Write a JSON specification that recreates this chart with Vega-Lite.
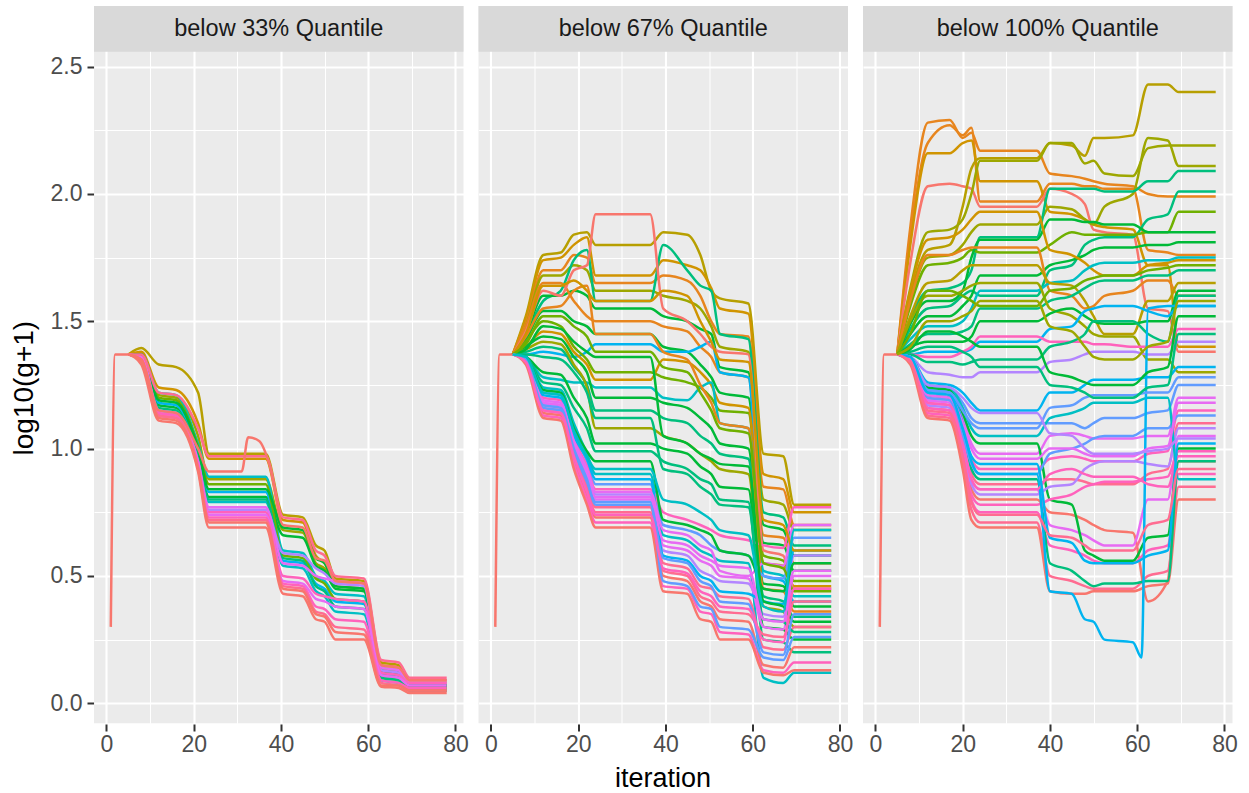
{
"$schema":"https://vega.github.io/schema/vega-lite/v6.json",
"padding":{"left":10,"top":6,"right":17,"bottom":0},
"background":"white",
"datasets":{
"lines":[
{"g":1,"p":"below 33% Quantile","c":3},{"g":2,"p":"below 33% Quantile","c":2},{"g":3,"p":"below 33% Quantile","c":4},{"g":4,"p":"below 33% Quantile","c":8},{"g":5,"p":"below 33% Quantile","c":6},{"g":6,"p":"below 33% Quantile","c":9},{"g":7,"p":"below 33% Quantile","c":5},{"g":8,"p":"below 33% Quantile","c":8},{"g":9,"p":"below 33% Quantile","c":7},{"g":10,"p":"below 33% Quantile","c":6},{"g":11,"p":"below 33% Quantile","c":11},{"g":12,"p":"below 33% Quantile","c":12},{"g":13,"p":"below 33% Quantile","c":13},{"g":14,"p":"below 33% Quantile","c":12},{"g":15,"p":"below 33% Quantile","c":14},{"g":16,"p":"below 33% Quantile","c":13},{"g":17,"p":"below 33% Quantile","c":14},{"g":18,"p":"below 33% Quantile","c":0},{"g":19,"p":"below 33% Quantile","c":0},{"g":20,"p":"below 33% Quantile","c":0},{"g":21,"p":"below 33% Quantile","c":0},
{"g":22,"p":"below 67% Quantile","c":3},{"g":23,"p":"below 67% Quantile","c":2},{"g":24,"p":"below 67% Quantile","c":1},{"g":25,"p":"below 67% Quantile","c":4},{"g":26,"p":"below 67% Quantile","c":7},{"g":27,"p":"below 67% Quantile","c":6},{"g":28,"p":"below 67% Quantile","c":1},{"g":29,"p":"below 67% Quantile","c":6},{"g":30,"p":"below 67% Quantile","c":9},{"g":31,"p":"below 67% Quantile","c":5},{"g":32,"p":"below 67% Quantile","c":2},{"g":33,"p":"below 67% Quantile","c":8},{"g":34,"p":"below 67% Quantile","c":6},{"g":35,"p":"below 67% Quantile","c":7},{"g":36,"p":"below 67% Quantile","c":4},{"g":37,"p":"below 67% Quantile","c":6},{"g":38,"p":"below 67% Quantile","c":7},{"g":39,"p":"below 67% Quantile","c":1},{"g":40,"p":"below 67% Quantile","c":0},{"g":41,"p":"below 67% Quantile","c":8},{"g":42,"p":"below 67% Quantile","c":10},{"g":43,"p":"below 67% Quantile","c":13},{"g":44,"p":"below 67% Quantile","c":11},{"g":45,"p":"below 67% Quantile","c":12},{"g":46,"p":"below 67% Quantile","c":14},{"g":47,"p":"below 67% Quantile","c":0},{"g":48,"p":"below 67% Quantile","c":13},{"g":49,"p":"below 67% Quantile","c":0},{"g":50,"p":"below 67% Quantile","c":9},{"g":51,"p":"below 67% Quantile","c":12},{"g":52,"p":"below 67% Quantile","c":14},{"g":53,"p":"below 67% Quantile","c":10},{"g":54,"p":"below 67% Quantile","c":6},{"g":55,"p":"below 67% Quantile","c":0},
{"g":56,"p":"below 100% Quantile","c":1},{"g":57,"p":"below 100% Quantile","c":1},{"g":58,"p":"below 100% Quantile","c":2},{"g":59,"p":"below 100% Quantile","c":0},{"g":60,"p":"below 100% Quantile","c":3},{"g":61,"p":"below 100% Quantile","c":4},{"g":62,"p":"below 100% Quantile","c":4},{"g":63,"p":"below 100% Quantile","c":7},{"g":64,"p":"below 100% Quantile","c":7},{"g":65,"p":"below 100% Quantile","c":5},{"g":66,"p":"below 100% Quantile","c":6},{"g":67,"p":"below 100% Quantile","c":6},{"g":68,"p":"below 100% Quantile","c":2},{"g":69,"p":"below 100% Quantile","c":1},{"g":70,"p":"below 100% Quantile","c":8},{"g":71,"p":"below 100% Quantile","c":3},{"g":72,"p":"below 100% Quantile","c":7},{"g":73,"p":"below 100% Quantile","c":4},{"g":74,"p":"below 100% Quantile","c":6},{"g":75,"p":"below 100% Quantile","c":9},{"g":76,"p":"below 100% Quantile","c":13},{"g":77,"p":"below 100% Quantile","c":7},{"g":78,"p":"below 100% Quantile","c":11},{"g":79,"p":"below 100% Quantile","c":9},{"g":80,"p":"below 100% Quantile","c":10},{"g":81,"p":"below 100% Quantile","c":12},{"g":82,"p":"below 100% Quantile","c":13},{"g":83,"p":"below 100% Quantile","c":14},{"g":84,"p":"below 100% Quantile","c":0},{"g":85,"p":"below 100% Quantile","c":13},{"g":86,"p":"below 100% Quantile","c":14},{"g":87,"p":"below 100% Quantile","c":0},{"g":88,"p":"below 100% Quantile","c":7},{"g":89,"p":"below 100% Quantile","c":12},{"g":90,"p":"below 100% Quantile","c":6},{"g":91,"p":"below 100% Quantile","c":11},{"g":92,"p":"below 100% Quantile","c":10},{"g":93,"p":"below 100% Quantile","c":13},{"g":94,"p":"below 100% Quantile","c":8},{"g":95,"p":"below 100% Quantile","c":9},{"g":96,"p":"below 100% Quantile","c":0},
{"g":97,"p":"below 100% Quantile","c":12},{"g":98,"p":"below 100% Quantile","c":10},{"g":99,"p":"below 100% Quantile","c":11},{"g":100,"p":"below 100% Quantile","c":7},{"g":101,"p":"below 100% Quantile","c":6},{"g":102,"p":"below 100% Quantile","c":13},{"g":103,"p":"below 100% Quantile","c":9},{"g":104,"p":"below 100% Quantile","c":14},{"g":105,"p":"below 100% Quantile","c":5},{"g":106,"p":"below 100% Quantile","c":4},
{"g":107,"p":"below 67% Quantile","c":6},{"g":108,"p":"below 67% Quantile","c":7},{"g":109,"p":"below 67% Quantile","c":2},{"g":110,"p":"below 67% Quantile","c":5},{"g":111,"p":"below 67% Quantile","c":12},{"g":112,"p":"below 67% Quantile","c":10},{"g":113,"p":"below 67% Quantile","c":13},{"g":114,"p":"below 67% Quantile","c":8}
],
"pts":[
{"g":1,"x":5,"y":1.37},{"g":1,"x":8,"y":1.395},{"g":1,"x":12,"y":1.33},{"g":1,"x":16,"y":1.32},{"g":1,"x":21,"y":1.22},{"g":1,"x":23.5,"y":0.98},{"g":1,"x":36.5,"y":0.98},{"g":1,"x":40.5,"y":0.74},{"g":1,"x":45,"y":0.73},{"g":1,"x":48,"y":0.62},{"g":1,"x":50,"y":0.6},{"g":1,"x":52.5,"y":0.49},{"g":1,"x":59,"y":0.48},{"g":1,"x":63,"y":0.16},{"g":1,"x":67,"y":0.15},{"g":1,"x":69.5,"y":0.09},{"g":1,"x":78,"y":0.09},
{"g":2,"x":5,"y":1.37},{"g":2,"x":8,"y":1.38},{"g":2,"x":12,"y":1.24},{"g":2,"x":16,"y":1.23},{"g":2,"x":21,"y":1.1},{"g":2,"x":23.5,"y":0.96},{"g":2,"x":36.5,"y":0.96},{"g":2,"x":40.5,"y":0.72},{"g":2,"x":45,"y":0.71},{"g":2,"x":48,"y":0.58},{"g":2,"x":50,"y":0.55},{"g":2,"x":52.5,"y":0.48},{"g":2,"x":59,"y":0.47},{"g":2,"x":63,"y":0.15},{"g":2,"x":67,"y":0.14},{"g":2,"x":69.5,"y":0.08},{"g":2,"x":78,"y":0.08},
{"g":3,"x":5,"y":1.37},{"g":3,"x":8,"y":1.37},{"g":3,"x":12,"y":1.21},{"g":3,"x":16,"y":1.2},{"g":3,"x":21,"y":1.05},{"g":3,"x":23.5,"y":0.88},{"g":3,"x":36.5,"y":0.88},{"g":3,"x":40.5,"y":0.68},{"g":3,"x":45,"y":0.67},{"g":3,"x":48,"y":0.55},{"g":3,"x":50,"y":0.53},{"g":3,"x":52.5,"y":0.46},{"g":3,"x":59,"y":0.45},{"g":3,"x":63,"y":0.14},{"g":3,"x":67,"y":0.13},{"g":3,"x":69.5,"y":0.07},{"g":3,"x":78,"y":0.07},
{"g":4,"x":5,"y":1.37},{"g":4,"x":8,"y":1.37},{"g":4,"x":12,"y":1.22},{"g":4,"x":16,"y":1.21},{"g":4,"x":21,"y":1.02},{"g":4,"x":23.5,"y":0.89},{"g":4,"x":36.5,"y":0.89},{"g":4,"x":40.5,"y":0.6},{"g":4,"x":45,"y":0.59},{"g":4,"x":48,"y":0.5},{"g":4,"x":50,"y":0.48},{"g":4,"x":52.5,"y":0.43},{"g":4,"x":59,"y":0.42},{"g":4,"x":63,"y":0.12},{"g":4,"x":67,"y":0.11},{"g":4,"x":69.5,"y":0.07},{"g":4,"x":78,"y":0.07},
{"g":5,"x":5,"y":1.37},{"g":5,"x":8,"y":1.36},{"g":5,"x":12,"y":1.17},{"g":5,"x":16,"y":1.16},{"g":5,"x":21,"y":0.98},{"g":5,"x":23.5,"y":0.81},{"g":5,"x":36.5,"y":0.81},{"g":5,"x":40.5,"y":0.66},{"g":5,"x":45,"y":0.65},{"g":5,"x":48,"y":0.54},{"g":5,"x":50,"y":0.52},{"g":5,"x":52.5,"y":0.45},{"g":5,"x":59,"y":0.44},{"g":5,"x":63,"y":0.13},{"g":5,"x":67,"y":0.12},{"g":5,"x":69.5,"y":0.07},{"g":5,"x":78,"y":0.07},
{"g":6,"x":5,"y":1.37},{"g":6,"x":8,"y":1.36},{"g":6,"x":12,"y":1.18},{"g":6,"x":16,"y":1.17},{"g":6,"x":21,"y":0.99},{"g":6,"x":23.5,"y":0.83},{"g":6,"x":36.5,"y":0.83},{"g":6,"x":40.5,"y":0.56},{"g":6,"x":45,"y":0.55},{"g":6,"x":48,"y":0.47},{"g":6,"x":50,"y":0.45},{"g":6,"x":52.5,"y":0.4},{"g":6,"x":59,"y":0.39},{"g":6,"x":63,"y":0.11},{"g":6,"x":67,"y":0.1},{"g":6,"x":69.5,"y":0.06},{"g":6,"x":78,"y":0.06},
{"g":7,"x":5,"y":1.37},{"g":7,"x":8,"y":1.37},{"g":7,"x":12,"y":1.2},{"g":7,"x":16,"y":1.19},{"g":7,"x":21,"y":1.01},{"g":7,"x":23.5,"y":0.86},{"g":7,"x":36.5,"y":0.86},{"g":7,"x":40.5,"y":0.58},{"g":7,"x":45,"y":0.57},{"g":7,"x":48,"y":0.49},{"g":7,"x":50,"y":0.47},{"g":7,"x":52.5,"y":0.41},{"g":7,"x":59,"y":0.4},{"g":7,"x":63,"y":0.1},{"g":7,"x":67,"y":0.09},{"g":7,"x":69.5,"y":0.06},{"g":7,"x":78,"y":0.06},
{"g":8,"x":5,"y":1.37},{"g":8,"x":8,"y":1.36},{"g":8,"x":12,"y":1.15},{"g":8,"x":16,"y":1.14},{"g":8,"x":21,"y":0.96},{"g":8,"x":23.5,"y":0.79},{"g":8,"x":36.5,"y":0.79},{"g":8,"x":40.5,"y":0.54},{"g":8,"x":45,"y":0.53},{"g":8,"x":48,"y":0.44},{"g":8,"x":50,"y":0.42},{"g":8,"x":52.5,"y":0.36},{"g":8,"x":59,"y":0.35},{"g":8,"x":63,"y":0.09},{"g":8,"x":67,"y":0.08},{"g":8,"x":69.5,"y":0.05},{"g":8,"x":78,"y":0.05},
{"g":9,"x":5,"y":1.37},{"g":9,"x":8,"y":1.36},{"g":9,"x":12,"y":1.16},{"g":9,"x":16,"y":1.15},{"g":9,"x":21,"y":0.97},{"g":9,"x":23.5,"y":0.8},{"g":9,"x":36.5,"y":0.8},{"g":9,"x":40.5,"y":0.57},{"g":9,"x":45,"y":0.56},{"g":9,"x":48,"y":0.46},{"g":9,"x":50,"y":0.44},{"g":9,"x":52.5,"y":0.38},{"g":9,"x":59,"y":0.37},{"g":9,"x":63,"y":0.1},{"g":9,"x":67,"y":0.09},{"g":9,"x":69.5,"y":0.05},{"g":9,"x":78,"y":0.05},
{"g":10,"x":5,"y":1.37},{"g":10,"x":8,"y":1.37},{"g":10,"x":12,"y":1.19},{"g":10,"x":16,"y":1.18},{"g":10,"x":21,"y":1.0},{"g":10,"x":23.5,"y":0.84},{"g":10,"x":36.5,"y":0.84},{"g":10,"x":40.5,"y":0.69},{"g":10,"x":45,"y":0.68},{"g":10,"x":48,"y":0.57},{"g":10,"x":50,"y":0.55},{"g":10,"x":52.5,"y":0.46},{"g":10,"x":59,"y":0.45},{"g":10,"x":63,"y":0.12},{"g":10,"x":67,"y":0.11},{"g":10,"x":69.5,"y":0.07},{"g":10,"x":78,"y":0.07},
{"g":11,"x":5,"y":1.37},{"g":11,"x":8,"y":1.36},{"g":11,"x":12,"y":1.15},{"g":11,"x":16,"y":1.14},{"g":11,"x":21,"y":0.95},{"g":11,"x":23.5,"y":0.76},{"g":11,"x":36.5,"y":0.76},{"g":11,"x":40.5,"y":0.59},{"g":11,"x":45,"y":0.58},{"g":11,"x":48,"y":0.53},{"g":11,"x":50,"y":0.51},{"g":11,"x":52.5,"y":0.47},{"g":11,"x":59,"y":0.46},{"g":11,"x":63,"y":0.13},{"g":11,"x":67,"y":0.12},{"g":11,"x":69.5,"y":0.08},{"g":11,"x":78,"y":0.08},
{"g":12,"x":5,"y":1.37},{"g":12,"x":8,"y":1.36},{"g":12,"x":12,"y":1.14},{"g":12,"x":16,"y":1.13},{"g":12,"x":21,"y":0.95},{"g":12,"x":23.5,"y":0.77},{"g":12,"x":36.5,"y":0.77},{"g":12,"x":40.5,"y":0.55},{"g":12,"x":45,"y":0.54},{"g":12,"x":48,"y":0.5},{"g":12,"x":50,"y":0.49},{"g":12,"x":52.5,"y":0.48},{"g":12,"x":59,"y":0.47},{"g":12,"x":63,"y":0.14},{"g":12,"x":67,"y":0.13},{"g":12,"x":69.5,"y":0.09},{"g":12,"x":78,"y":0.09},
{"g":13,"x":5,"y":1.37},{"g":13,"x":8,"y":1.35},{"g":13,"x":12,"y":1.14},{"g":13,"x":16,"y":1.13},{"g":13,"x":21,"y":0.94},{"g":13,"x":23.5,"y":0.75},{"g":13,"x":36.5,"y":0.75},{"g":13,"x":40.5,"y":0.5},{"g":13,"x":45,"y":0.49},{"g":13,"x":48,"y":0.43},{"g":13,"x":50,"y":0.42},{"g":13,"x":52.5,"y":0.41},{"g":13,"x":59,"y":0.4},{"g":13,"x":63,"y":0.12},{"g":13,"x":67,"y":0.11},{"g":13,"x":69.5,"y":0.08},{"g":13,"x":78,"y":0.08},
{"g":14,"x":5,"y":1.37},{"g":14,"x":8,"y":1.35},{"g":14,"x":12,"y":1.13},{"g":14,"x":16,"y":1.12},{"g":14,"x":21,"y":0.94},{"g":14,"x":23.5,"y":0.74},{"g":14,"x":36.5,"y":0.74},{"g":14,"x":40.5,"y":0.48},{"g":14,"x":45,"y":0.47},{"g":14,"x":48,"y":0.41},{"g":14,"x":50,"y":0.4},{"g":14,"x":52.5,"y":0.38},{"g":14,"x":59,"y":0.37},{"g":14,"x":63,"y":0.11},{"g":14,"x":67,"y":0.1},{"g":14,"x":69.5,"y":0.07},{"g":14,"x":78,"y":0.07},
{"g":15,"x":5,"y":1.37},{"g":15,"x":8,"y":1.37},{"g":15,"x":12,"y":1.22},{"g":15,"x":16,"y":1.21},{"g":15,"x":21,"y":1.08},{"g":15,"x":23.5,"y":0.97},{"g":15,"x":36.5,"y":0.97},{"g":15,"x":40.5,"y":0.73},{"g":15,"x":45,"y":0.72},{"g":15,"x":48,"y":0.6},{"g":15,"x":50,"y":0.58},{"g":15,"x":52.5,"y":0.5},{"g":15,"x":59,"y":0.49},{"g":15,"x":63,"y":0.17},{"g":15,"x":67,"y":0.16},{"g":15,"x":69.5,"y":0.1},{"g":15,"x":78,"y":0.1},
{"g":16,"x":5,"y":1.37},{"g":16,"x":8,"y":1.35},{"g":16,"x":12,"y":1.13},{"g":16,"x":16,"y":1.12},{"g":16,"x":21,"y":0.93},{"g":16,"x":23.5,"y":0.73},{"g":16,"x":36.5,"y":0.73},{"g":16,"x":40.5,"y":0.47},{"g":16,"x":45,"y":0.46},{"g":16,"x":48,"y":0.38},{"g":16,"x":50,"y":0.37},{"g":16,"x":52.5,"y":0.33},{"g":16,"x":59,"y":0.32},{"g":16,"x":63,"y":0.09},{"g":16,"x":67,"y":0.08},{"g":16,"x":69.5,"y":0.06},{"g":16,"x":78,"y":0.06},
{"g":17,"x":5,"y":1.37},{"g":17,"x":8,"y":1.35},{"g":17,"x":12,"y":1.13},{"g":17,"x":16,"y":1.12},{"g":17,"x":21,"y":0.93},{"g":17,"x":23.5,"y":0.72},{"g":17,"x":36.5,"y":0.72},{"g":17,"x":40.5,"y":0.46},{"g":17,"x":45,"y":0.45},{"g":17,"x":48,"y":0.36},{"g":17,"x":50,"y":0.35},{"g":17,"x":52.5,"y":0.3},{"g":17,"x":59,"y":0.29},{"g":17,"x":63,"y":0.08},{"g":17,"x":67,"y":0.07},{"g":17,"x":69.5,"y":0.05},{"g":17,"x":78,"y":0.05},
{"g":18,"x":5,"y":1.37},{"g":18,"x":8,"y":1.34},{"g":18,"x":12,"y":1.12},{"g":18,"x":16,"y":1.11},{"g":18,"x":21,"y":0.92},{"g":18,"x":23.5,"y":0.71},{"g":18,"x":36.5,"y":0.71},{"g":18,"x":40.5,"y":0.45},{"g":18,"x":45,"y":0.44},{"g":18,"x":48,"y":0.35},{"g":18,"x":50,"y":0.34},{"g":18,"x":52.5,"y":0.28},{"g":18,"x":59,"y":0.27},{"g":18,"x":63,"y":0.07},{"g":18,"x":67,"y":0.07},{"g":18,"x":69.5,"y":0.05},{"g":18,"x":78,"y":0.05},
{"g":19,"x":5,"y":1.37},{"g":19,"x":8,"y":1.33},{"g":19,"x":12,"y":1.11},{"g":19,"x":16,"y":1.1},{"g":19,"x":21,"y":0.91},{"g":19,"x":23.5,"y":0.69},{"g":19,"x":36.5,"y":0.69},{"g":19,"x":40.5,"y":0.43},{"g":19,"x":45,"y":0.42},{"g":19,"x":48,"y":0.33},{"g":19,"x":50,"y":0.32},{"g":19,"x":52.5,"y":0.25},{"g":19,"x":59,"y":0.25},{"g":19,"x":63,"y":0.065},{"g":19,"x":67,"y":0.06},{"g":19,"x":69.5,"y":0.04},{"g":19,"x":78,"y":0.04},
{"g":20,"x":5,"y":1.37},{"g":20,"x":8,"y":1.35},{"g":20,"x":12,"y":1.15},{"g":20,"x":16,"y":1.14},{"g":20,"x":21,"y":1.0},{"g":20,"x":23.5,"y":0.91},{"g":20,"x":31,"y":0.91},{"g":20,"x":32.5,"y":1.045},{"g":20,"x":35,"y":1.03},{"g":20,"x":37.5,"y":0.93},{"g":20,"x":40.5,"y":0.7},{"g":20,"x":45,"y":0.69},{"g":20,"x":48,"y":0.57},{"g":20,"x":50,"y":0.56},{"g":20,"x":52.5,"y":0.48},{"g":20,"x":59,"y":0.47},{"g":20,"x":63,"y":0.15},{"g":20,"x":67,"y":0.14},{"g":20,"x":69.5,"y":0.09},{"g":20,"x":78,"y":0.09},
{"g":21,"x":1,"y":0.3},{"g":21,"x":2,"y":1.37},{"g":21,"x":5,"y":1.37},
{"g":22,"x":5,"y":1.37},{"g":22,"x":8,"y":1.52},{"g":22,"x":12,"y":1.76},{"g":22,"x":16,"y":1.77},{"g":22,"x":19,"y":1.84},{"g":22,"x":22,"y":1.85},{"g":22,"x":24,"y":1.8},{"g":22,"x":36.5,"y":1.8},{"g":22,"x":39.5,"y":1.85},{"g":22,"x":45,"y":1.84},{"g":22,"x":48,"y":1.76},{"g":22,"x":50.5,"y":1.62},{"g":22,"x":52.5,"y":1.59},{"g":22,"x":59,"y":1.57},{"g":22,"x":62.5,"y":0.98},{"g":22,"x":67,"y":0.97},{"g":22,"x":69.5,"y":0.78},{"g":22,"x":78,"y":0.78},
{"g":23,"x":5,"y":1.37},{"g":23,"x":8,"y":1.51},{"g":23,"x":12,"y":1.74},{"g":23,"x":16,"y":1.75},{"g":23,"x":19,"y":1.8},{"g":23,"x":22,"y":1.83},{"g":23,"x":24,"y":1.68},{"g":23,"x":36.5,"y":1.68},{"g":23,"x":39.5,"y":1.74},{"g":23,"x":45,"y":1.72},{"g":23,"x":48,"y":1.7},{"g":23,"x":50.5,"y":1.63},{"g":23,"x":52.5,"y":1.55},{"g":23,"x":59,"y":1.53},{"g":23,"x":62.5,"y":0.9},{"g":23,"x":67,"y":0.88},{"g":23,"x":69.5,"y":0.75},{"g":23,"x":78,"y":0.75},
{"g":24,"x":5,"y":1.37},{"g":24,"x":8,"y":1.49},{"g":24,"x":12,"y":1.7},{"g":24,"x":16,"y":1.7},{"g":24,"x":19,"y":1.76},{"g":24,"x":22,"y":1.75},{"g":24,"x":24,"y":1.65},{"g":24,"x":36.5,"y":1.65},{"g":24,"x":39.5,"y":1.68},{"g":24,"x":45,"y":1.66},{"g":24,"x":48,"y":1.6},{"g":24,"x":50.5,"y":1.5},{"g":24,"x":52.5,"y":1.45},{"g":24,"x":59,"y":1.44},{"g":24,"x":62.5,"y":0.85},{"g":24,"x":67,"y":0.84},{"g":24,"x":69.5,"y":0.7},{"g":24,"x":78,"y":0.7},
{"g":25,"x":5,"y":1.37},{"g":25,"x":8,"y":1.48},{"g":25,"x":12,"y":1.68},{"g":25,"x":16,"y":1.68},{"g":25,"x":19,"y":1.72},{"g":25,"x":22,"y":1.7},{"g":25,"x":24,"y":1.62},{"g":25,"x":36.5,"y":1.62},{"g":25,"x":39.5,"y":1.6},{"g":25,"x":45,"y":1.58},{"g":25,"x":48,"y":1.55},{"g":25,"x":50.5,"y":1.48},{"g":25,"x":52.5,"y":1.4},{"g":25,"x":59,"y":1.38},{"g":25,"x":62.5,"y":0.8},{"g":25,"x":67,"y":0.78},{"g":25,"x":69.5,"y":0.68},{"g":25,"x":78,"y":0.68},
{"g":26,"x":5,"y":1.37},{"g":26,"x":8,"y":1.45},{"g":26,"x":12,"y":1.58},{"g":26,"x":16,"y":1.62},{"g":26,"x":19,"y":1.74},{"g":26,"x":22,"y":1.78},{"g":26,"x":24,"y":1.58},{"g":26,"x":36.5,"y":1.58},{"g":26,"x":39.5,"y":1.8},{"g":26,"x":45,"y":1.7},{"g":26,"x":48,"y":1.64},{"g":26,"x":50.5,"y":1.62},{"g":26,"x":52.5,"y":1.45},{"g":26,"x":59,"y":1.43},{"g":26,"x":62.5,"y":0.75},{"g":26,"x":67,"y":0.73},{"g":26,"x":69.5,"y":0.62},{"g":26,"x":78,"y":0.62},
{"g":27,"x":5,"y":1.37},{"g":27,"x":8,"y":1.45},{"g":27,"x":12,"y":1.6},{"g":27,"x":16,"y":1.6},{"g":27,"x":19,"y":1.62},{"g":27,"x":22,"y":1.6},{"g":27,"x":24,"y":1.55},{"g":27,"x":36.5,"y":1.55},{"g":27,"x":39.5,"y":1.52},{"g":27,"x":45,"y":1.5},{"g":27,"x":48,"y":1.47},{"g":27,"x":50.5,"y":1.45},{"g":27,"x":52.5,"y":1.32},{"g":27,"x":59,"y":1.3},{"g":27,"x":62.5,"y":0.7},{"g":27,"x":67,"y":0.68},{"g":27,"x":69.5,"y":0.58},{"g":27,"x":78,"y":0.58},
{"g":28,"x":5,"y":1.37},{"g":28,"x":8,"y":1.48},{"g":28,"x":12,"y":1.65},{"g":28,"x":16,"y":1.65},{"g":28,"x":19,"y":1.58},{"g":28,"x":22,"y":1.52},{"g":28,"x":24,"y":1.5},{"g":28,"x":36.5,"y":1.5},{"g":28,"x":39.5,"y":1.48},{"g":28,"x":45,"y":1.46},{"g":28,"x":48,"y":1.4},{"g":28,"x":50.5,"y":1.36},{"g":28,"x":52.5,"y":1.3},{"g":28,"x":59,"y":1.28},{"g":28,"x":62.5,"y":0.66},{"g":28,"x":67,"y":0.65},{"g":28,"x":69.5,"y":0.55},{"g":28,"x":78,"y":0.55},
{"g":29,"x":5,"y":1.37},{"g":29,"x":8,"y":1.43},{"g":29,"x":12,"y":1.54},{"g":29,"x":16,"y":1.54},{"g":29,"x":19,"y":1.5},{"g":29,"x":22,"y":1.48},{"g":29,"x":24,"y":1.45},{"g":29,"x":36.5,"y":1.45},{"g":29,"x":39.5,"y":1.4},{"g":29,"x":45,"y":1.38},{"g":29,"x":48,"y":1.33},{"g":29,"x":50.5,"y":1.28},{"g":29,"x":52.5,"y":1.22},{"g":29,"x":59,"y":1.2},{"g":29,"x":62.5,"y":0.63},{"g":29,"x":67,"y":0.62},{"g":29,"x":69.5,"y":0.52},{"g":29,"x":78,"y":0.52},
{"g":30,"x":5,"y":1.37},{"g":30,"x":8,"y":1.37},{"g":30,"x":12,"y":1.38},{"g":30,"x":16,"y":1.37},{"g":30,"x":19,"y":1.36},{"g":30,"x":22,"y":1.38},{"g":30,"x":24,"y":1.41},{"g":30,"x":36.5,"y":1.41},{"g":30,"x":39.5,"y":1.38},{"g":30,"x":45,"y":1.38},{"g":30,"x":48,"y":1.4},{"g":30,"x":50.5,"y":1.42},{"g":30,"x":52.5,"y":1.3},{"g":30,"x":59,"y":1.28},{"g":30,"x":62.5,"y":0.5},{"g":30,"x":67,"y":0.48},{"g":30,"x":69.5,"y":0.4},{"g":30,"x":78,"y":0.4},
{"g":31,"x":5,"y":1.37},{"g":31,"x":8,"y":1.42},{"g":31,"x":12,"y":1.5},{"g":31,"x":16,"y":1.48},{"g":31,"x":19,"y":1.4},{"g":31,"x":22,"y":1.35},{"g":31,"x":24,"y":1.3},{"g":31,"x":36.5,"y":1.3},{"g":31,"x":39.5,"y":1.28},{"g":31,"x":45,"y":1.26},{"g":31,"x":48,"y":1.24},{"g":31,"x":50.5,"y":1.2},{"g":31,"x":52.5,"y":1.15},{"g":31,"x":59,"y":1.14},{"g":31,"x":62.5,"y":0.58},{"g":31,"x":67,"y":0.56},{"g":31,"x":69.5,"y":0.48},{"g":31,"x":78,"y":0.48},
{"g":32,"x":5,"y":1.37},{"g":32,"x":8,"y":1.4},{"g":32,"x":12,"y":1.46},{"g":32,"x":16,"y":1.45},{"g":32,"x":19,"y":1.38},{"g":32,"x":22,"y":1.33},{"g":32,"x":24,"y":1.27},{"g":32,"x":36.5,"y":1.27},{"g":32,"x":39.5,"y":1.35},{"g":32,"x":45,"y":1.34},{"g":32,"x":48,"y":1.3},{"g":32,"x":50.5,"y":1.25},{"g":32,"x":52.5,"y":1.18},{"g":32,"x":59,"y":1.16},{"g":32,"x":62.5,"y":0.55},{"g":32,"x":67,"y":0.54},{"g":32,"x":69.5,"y":0.46},{"g":32,"x":78,"y":0.46},
{"g":33,"x":5,"y":1.37},{"g":33,"x":8,"y":1.36},{"g":33,"x":12,"y":1.28},{"g":33,"x":16,"y":1.27},{"g":33,"x":19,"y":1.26},{"g":33,"x":22,"y":1.26},{"g":33,"x":24,"y":1.24},{"g":33,"x":36.5,"y":1.24},{"g":33,"x":39.5,"y":1.2},{"g":33,"x":45,"y":1.19},{"g":33,"x":48,"y":1.24},{"g":33,"x":50.5,"y":1.26},{"g":33,"x":52.5,"y":1.1},{"g":33,"x":59,"y":1.08},{"g":33,"x":62.5,"y":0.52},{"g":33,"x":67,"y":0.5},{"g":33,"x":69.5,"y":0.42},{"g":33,"x":78,"y":0.42},
{"g":34,"x":5,"y":1.37},{"g":34,"x":8,"y":1.4},{"g":34,"x":12,"y":1.44},{"g":34,"x":16,"y":1.43},{"g":34,"x":19,"y":1.36},{"g":34,"x":22,"y":1.3},{"g":34,"x":24,"y":1.2},{"g":34,"x":36.5,"y":1.2},{"g":34,"x":39.5,"y":1.18},{"g":34,"x":45,"y":1.16},{"g":34,"x":48,"y":1.12},{"g":34,"x":50.5,"y":1.08},{"g":34,"x":52.5,"y":1.02},{"g":34,"x":59,"y":1.0},{"g":34,"x":62.5,"y":0.47},{"g":34,"x":67,"y":0.46},{"g":34,"x":69.5,"y":0.38},{"g":34,"x":78,"y":0.38},
{"g":35,"x":5,"y":1.37},{"g":35,"x":8,"y":1.38},{"g":35,"x":12,"y":1.4},{"g":35,"x":16,"y":1.39},{"g":35,"x":19,"y":1.32},{"g":35,"x":22,"y":1.25},{"g":35,"x":24,"y":1.15},{"g":35,"x":36.5,"y":1.15},{"g":35,"x":39.5,"y":1.12},{"g":35,"x":45,"y":1.1},{"g":35,"x":48,"y":1.05},{"g":35,"x":50.5,"y":1.02},{"g":35,"x":52.5,"y":0.98},{"g":35,"x":59,"y":0.96},{"g":35,"x":62.5,"y":0.42},{"g":35,"x":67,"y":0.4},{"g":35,"x":69.5,"y":0.34},{"g":35,"x":78,"y":0.34},
{"g":36,"x":5,"y":1.37},{"g":36,"x":8,"y":1.39},{"g":36,"x":12,"y":1.42},{"g":36,"x":16,"y":1.41},{"g":36,"x":19,"y":1.33},{"g":36,"x":22,"y":1.24},{"g":36,"x":24,"y":1.08},{"g":36,"x":36.5,"y":1.08},{"g":36,"x":39.5,"y":1.05},{"g":36,"x":45,"y":1.02},{"g":36,"x":48,"y":0.98},{"g":36,"x":50.5,"y":0.95},{"g":36,"x":52.5,"y":0.92},{"g":36,"x":59,"y":0.9},{"g":36,"x":62.5,"y":0.38},{"g":36,"x":67,"y":0.36},{"g":36,"x":69.5,"y":0.3},{"g":36,"x":78,"y":0.3},
{"g":37,"x":5,"y":1.37},{"g":37,"x":8,"y":1.36},{"g":37,"x":12,"y":1.3},{"g":37,"x":16,"y":1.29},{"g":37,"x":19,"y":1.2},{"g":37,"x":22,"y":1.12},{"g":37,"x":24,"y":1.02},{"g":37,"x":36.5,"y":1.02},{"g":37,"x":39.5,"y":1.0},{"g":37,"x":45,"y":0.98},{"g":37,"x":48,"y":0.93},{"g":37,"x":50.5,"y":0.9},{"g":37,"x":52.5,"y":0.85},{"g":37,"x":59,"y":0.84},{"g":37,"x":62.5,"y":0.3},{"g":37,"x":67,"y":0.29},{"g":37,"x":69.5,"y":0.25},{"g":37,"x":78,"y":0.25},
{"g":38,"x":5,"y":1.37},{"g":38,"x":8,"y":1.36},{"g":38,"x":12,"y":1.26},{"g":38,"x":16,"y":1.25},{"g":38,"x":19,"y":1.16},{"g":38,"x":22,"y":1.08},{"g":38,"x":24,"y":0.99},{"g":38,"x":36.5,"y":0.99},{"g":38,"x":39.5,"y":0.95},{"g":38,"x":45,"y":0.92},{"g":38,"x":48,"y":0.88},{"g":38,"x":50.5,"y":0.86},{"g":38,"x":52.5,"y":0.8},{"g":38,"x":59,"y":0.79},{"g":38,"x":62.5,"y":0.25},{"g":38,"x":67,"y":0.24},{"g":38,"x":69.5,"y":0.2},{"g":38,"x":78,"y":0.2},
{"g":39,"x":5,"y":1.37},{"g":39,"x":8,"y":1.44},{"g":39,"x":12,"y":1.55},{"g":39,"x":16,"y":1.56},{"g":39,"x":19,"y":1.62},{"g":39,"x":22,"y":1.64},{"g":39,"x":24,"y":1.45},{"g":39,"x":36.5,"y":1.45},{"g":39,"x":39.5,"y":1.38},{"g":39,"x":45,"y":1.35},{"g":39,"x":48,"y":1.25},{"g":39,"x":50.5,"y":1.18},{"g":39,"x":52.5,"y":1.1},{"g":39,"x":59,"y":1.08},{"g":39,"x":62.5,"y":0.45},{"g":39,"x":67,"y":0.44},{"g":39,"x":69.5,"y":0.36},{"g":39,"x":78,"y":0.36},
{"g":40,"x":5,"y":1.37},{"g":40,"x":8,"y":1.46},{"g":40,"x":12,"y":1.62},{"g":40,"x":16,"y":1.6},{"g":40,"x":19,"y":1.7},{"g":40,"x":22,"y":1.72},{"g":40,"x":24,"y":1.92},{"g":40,"x":36.5,"y":1.92},{"g":40,"x":39.5,"y":1.55},{"g":40,"x":45,"y":1.5},{"g":40,"x":48,"y":1.45},{"g":40,"x":50.5,"y":1.4},{"g":40,"x":52.5,"y":1.38},{"g":40,"x":59,"y":1.37},{"g":40,"x":62.5,"y":0.6},{"g":40,"x":67,"y":0.58},{"g":40,"x":69.5,"y":0.45},{"g":40,"x":78,"y":0.45},
{"g":41,"x":5,"y":1.37},{"g":41,"x":8,"y":1.36},{"g":41,"x":12,"y":1.24},{"g":41,"x":16,"y":1.23},{"g":41,"x":19,"y":1.1},{"g":41,"x":22,"y":0.98},{"g":41,"x":24,"y":0.9},{"g":41,"x":36.5,"y":0.9},{"g":41,"x":39.5,"y":0.66},{"g":41,"x":45,"y":0.64},{"g":41,"x":48,"y":0.6},{"g":41,"x":50.5,"y":0.58},{"g":41,"x":52.5,"y":0.56},{"g":41,"x":59,"y":0.55},{"g":41,"x":62.5,"y":0.1},{"g":41,"x":67,"y":0.08},{"g":41,"x":69.5,"y":0.12},{"g":41,"x":78,"y":0.12},
{"g":42,"x":5,"y":1.37},{"g":42,"x":8,"y":1.36},{"g":42,"x":12,"y":1.22},{"g":42,"x":16,"y":1.21},{"g":42,"x":19,"y":1.06},{"g":42,"x":22,"y":0.95},{"g":42,"x":24,"y":0.86},{"g":42,"x":36.5,"y":0.86},{"g":42,"x":39.5,"y":0.7},{"g":42,"x":45,"y":0.68},{"g":42,"x":48,"y":0.66},{"g":42,"x":50.5,"y":0.62},{"g":42,"x":52.5,"y":0.6},{"g":42,"x":59,"y":0.58},{"g":42,"x":62.5,"y":0.5},{"g":42,"x":67,"y":0.49},{"g":42,"x":69.5,"y":0.65},{"g":42,"x":78,"y":0.65},
{"g":43,"x":5,"y":1.37},{"g":43,"x":8,"y":1.35},{"g":43,"x":12,"y":1.2},{"g":43,"x":16,"y":1.19},{"g":43,"x":19,"y":1.04},{"g":43,"x":22,"y":0.93},{"g":43,"x":24,"y":0.84},{"g":43,"x":36.5,"y":0.84},{"g":43,"x":39.5,"y":0.75},{"g":43,"x":45,"y":0.72},{"g":43,"x":48,"y":0.7},{"g":43,"x":50.5,"y":0.68},{"g":43,"x":52.5,"y":0.66},{"g":43,"x":59,"y":0.64},{"g":43,"x":62.5,"y":0.62},{"g":43,"x":67,"y":0.61},{"g":43,"x":69.5,"y":0.77},{"g":43,"x":78,"y":0.77},
{"g":44,"x":5,"y":1.37},{"g":44,"x":8,"y":1.35},{"g":44,"x":12,"y":1.18},{"g":44,"x":16,"y":1.17},{"g":44,"x":19,"y":1.02},{"g":44,"x":22,"y":0.91},{"g":44,"x":24,"y":0.82},{"g":44,"x":36.5,"y":0.82},{"g":44,"x":39.5,"y":0.6},{"g":44,"x":45,"y":0.58},{"g":44,"x":48,"y":0.52},{"g":44,"x":50.5,"y":0.5},{"g":44,"x":52.5,"y":0.48},{"g":44,"x":59,"y":0.47},{"g":44,"x":62.5,"y":0.35},{"g":44,"x":67,"y":0.34},{"g":44,"x":69.5,"y":0.58},{"g":44,"x":78,"y":0.58},
{"g":45,"x":5,"y":1.37},{"g":45,"x":8,"y":1.35},{"g":45,"x":12,"y":1.17},{"g":45,"x":16,"y":1.16},{"g":45,"x":19,"y":1.0},{"g":45,"x":22,"y":0.89},{"g":45,"x":24,"y":0.8},{"g":45,"x":36.5,"y":0.8},{"g":45,"x":39.5,"y":0.62},{"g":45,"x":45,"y":0.6},{"g":45,"x":48,"y":0.56},{"g":45,"x":50.5,"y":0.54},{"g":45,"x":52.5,"y":0.5},{"g":45,"x":59,"y":0.49},{"g":45,"x":62.5,"y":0.3},{"g":45,"x":67,"y":0.29},{"g":45,"x":69.5,"y":0.5},{"g":45,"x":78,"y":0.5},
{"g":46,"x":5,"y":1.37},{"g":46,"x":8,"y":1.35},{"g":46,"x":12,"y":1.16},{"g":46,"x":16,"y":1.15},{"g":46,"x":19,"y":0.98},{"g":46,"x":22,"y":0.86},{"g":46,"x":24,"y":0.77},{"g":46,"x":36.5,"y":0.77},{"g":46,"x":39.5,"y":0.55},{"g":46,"x":45,"y":0.53},{"g":46,"x":48,"y":0.46},{"g":46,"x":50.5,"y":0.45},{"g":46,"x":52.5,"y":0.42},{"g":46,"x":59,"y":0.41},{"g":46,"x":62.5,"y":0.22},{"g":46,"x":67,"y":0.21},{"g":46,"x":69.5,"y":0.3},{"g":46,"x":78,"y":0.3},
{"g":47,"x":5,"y":1.37},{"g":47,"x":8,"y":1.34},{"g":47,"x":12,"y":1.14},{"g":47,"x":16,"y":1.13},{"g":47,"x":19,"y":0.96},{"g":47,"x":22,"y":0.82},{"g":47,"x":24,"y":0.73},{"g":47,"x":36.5,"y":0.73},{"g":47,"x":39.5,"y":0.5},{"g":47,"x":45,"y":0.48},{"g":47,"x":48,"y":0.4},{"g":47,"x":50.5,"y":0.38},{"g":47,"x":52.5,"y":0.33},{"g":47,"x":59,"y":0.32},{"g":47,"x":62.5,"y":0.15},{"g":47,"x":67,"y":0.14},{"g":47,"x":69.5,"y":0.22},{"g":47,"x":78,"y":0.22},
{"g":48,"x":5,"y":1.37},{"g":48,"x":8,"y":1.34},{"g":48,"x":12,"y":1.13},{"g":48,"x":16,"y":1.12},{"g":48,"x":19,"y":0.94},{"g":48,"x":22,"y":0.8},{"g":48,"x":24,"y":0.71},{"g":48,"x":36.5,"y":0.71},{"g":48,"x":39.5,"y":0.46},{"g":48,"x":45,"y":0.45},{"g":48,"x":48,"y":0.36},{"g":48,"x":50.5,"y":0.35},{"g":48,"x":52.5,"y":0.28},{"g":48,"x":59,"y":0.27},{"g":48,"x":62.5,"y":0.13},{"g":48,"x":67,"y":0.12},{"g":48,"x":69.5,"y":0.16},{"g":48,"x":78,"y":0.16},
{"g":49,"x":5,"y":1.37},{"g":49,"x":8,"y":1.33},{"g":49,"x":12,"y":1.12},{"g":49,"x":16,"y":1.11},{"g":49,"x":19,"y":0.92},{"g":49,"x":22,"y":0.78},{"g":49,"x":24,"y":0.69},{"g":49,"x":36.5,"y":0.69},{"g":49,"x":39.5,"y":0.44},{"g":49,"x":45,"y":0.43},{"g":49,"x":48,"y":0.33},{"g":49,"x":50.5,"y":0.32},{"g":49,"x":52.5,"y":0.25},{"g":49,"x":59,"y":0.25},{"g":49,"x":62.5,"y":0.12},{"g":49,"x":67,"y":0.11},{"g":49,"x":69.5,"y":0.13},{"g":49,"x":78,"y":0.13},
{"g":50,"x":5,"y":1.37},{"g":50,"x":8,"y":1.36},{"g":50,"x":12,"y":1.21},{"g":50,"x":16,"y":1.2},{"g":50,"x":19,"y":1.05},{"g":50,"x":22,"y":0.96},{"g":50,"x":24,"y":0.88},{"g":50,"x":36.5,"y":0.88},{"g":50,"x":39.5,"y":0.58},{"g":50,"x":45,"y":0.56},{"g":50,"x":48,"y":0.5},{"g":50,"x":50.5,"y":0.48},{"g":50,"x":52.5,"y":0.44},{"g":50,"x":59,"y":0.43},{"g":50,"x":62.5,"y":0.4},{"g":50,"x":67,"y":0.39},{"g":50,"x":69.5,"y":0.6},{"g":50,"x":78,"y":0.6},
{"g":51,"x":5,"y":1.37},{"g":51,"x":8,"y":1.35},{"g":51,"x":12,"y":1.19},{"g":51,"x":16,"y":1.18},{"g":51,"x":19,"y":1.03},{"g":51,"x":22,"y":0.92},{"g":51,"x":24,"y":0.83},{"g":51,"x":36.5,"y":0.83},{"g":51,"x":39.5,"y":0.68},{"g":51,"x":45,"y":0.66},{"g":51,"x":48,"y":0.62},{"g":51,"x":50.5,"y":0.6},{"g":51,"x":52.5,"y":0.52},{"g":51,"x":59,"y":0.5},{"g":51,"x":62.5,"y":0.55},{"g":51,"x":67,"y":0.54},{"g":51,"x":69.5,"y":0.7},{"g":51,"x":78,"y":0.7},
{"g":52,"x":5,"y":1.37},{"g":52,"x":8,"y":1.34},{"g":52,"x":12,"y":1.15},{"g":52,"x":16,"y":1.14},{"g":52,"x":19,"y":0.97},{"g":52,"x":22,"y":0.84},{"g":52,"x":24,"y":0.75},{"g":52,"x":36.5,"y":0.75},{"g":52,"x":39.5,"y":0.52},{"g":52,"x":45,"y":0.5},{"g":52,"x":48,"y":0.42},{"g":52,"x":50.5,"y":0.4},{"g":52,"x":52.5,"y":0.36},{"g":52,"x":59,"y":0.35},{"g":52,"x":62.5,"y":0.27},{"g":52,"x":67,"y":0.26},{"g":52,"x":69.5,"y":0.4},{"g":52,"x":78,"y":0.4},
{"g":53,"x":5,"y":1.37},{"g":53,"x":8,"y":1.35},{"g":53,"x":12,"y":1.16},{"g":53,"x":16,"y":1.15},{"g":53,"x":19,"y":0.99},{"g":53,"x":22,"y":0.87},{"g":53,"x":24,"y":0.79},{"g":53,"x":36.5,"y":0.79},{"g":53,"x":39.5,"y":0.48},{"g":53,"x":45,"y":0.46},{"g":53,"x":48,"y":0.38},{"g":53,"x":50.5,"y":0.37},{"g":53,"x":52.5,"y":0.3},{"g":53,"x":59,"y":0.29},{"g":53,"x":62.5,"y":0.18},{"g":53,"x":67,"y":0.17},{"g":53,"x":69.5,"y":0.26},{"g":53,"x":78,"y":0.26},
{"g":54,"x":5,"y":1.37},{"g":54,"x":8,"y":1.36},{"g":54,"x":12,"y":1.23},{"g":54,"x":16,"y":1.22},{"g":54,"x":19,"y":1.08},{"g":54,"x":22,"y":0.99},{"g":54,"x":24,"y":0.95},{"g":54,"x":36.5,"y":0.95},{"g":54,"x":39.5,"y":0.72},{"g":54,"x":45,"y":0.7},{"g":54,"x":48,"y":0.68},{"g":54,"x":50.5,"y":0.66},{"g":54,"x":52.5,"y":0.6},{"g":54,"x":59,"y":0.58},{"g":54,"x":62.5,"y":0.45},{"g":54,"x":67,"y":0.44},{"g":54,"x":69.5,"y":0.55},{"g":54,"x":78,"y":0.55},
{"g":55,"x":1,"y":0.3},{"g":55,"x":2,"y":1.37},{"g":55,"x":5,"y":1.37},
{"g":56,"x":5,"y":1.37},{"g":56,"x":8,"y":1.87},{"g":56,"x":12,"y":2.28},{"g":56,"x":17,"y":2.29},{"g":56,"x":20,"y":2.22},{"g":56,"x":22,"y":2.24},{"g":56,"x":24,"y":2.17},{"g":56,"x":37,"y":2.17},{"g":56,"x":40,"y":2.08},{"g":56,"x":45,"y":2.07},{"g":56,"x":48,"y":2.06},{"g":56,"x":50,"y":2.05},{"g":56,"x":52.5,"y":2.04},{"g":56,"x":59,"y":2.03},{"g":56,"x":62.5,"y":2.0},{"g":56,"x":67,"y":1.99},{"g":56,"x":69.5,"y":1.99},{"g":56,"x":78,"y":1.99},
{"g":57,"x":5,"y":1.37},{"g":57,"x":8,"y":1.83},{"g":57,"x":12,"y":2.2},{"g":57,"x":17,"y":2.27},{"g":57,"x":20,"y":2.23},{"g":57,"x":22,"y":2.26},{"g":57,"x":24,"y":1.97},{"g":57,"x":37,"y":1.97},{"g":57,"x":40,"y":2.04},{"g":57,"x":45,"y":2.04},{"g":57,"x":48,"y":2.03},{"g":57,"x":50,"y":2.03},{"g":57,"x":52.5,"y":2.02},{"g":57,"x":59,"y":2.02},{"g":57,"x":62.5,"y":1.78},{"g":57,"x":67,"y":1.77},{"g":57,"x":69.5,"y":1.76},{"g":57,"x":78,"y":1.76},
{"g":58,"x":5,"y":1.37},{"g":58,"x":8,"y":1.8},{"g":58,"x":12,"y":2.16},{"g":58,"x":17,"y":2.16},{"g":58,"x":20,"y":2.2},{"g":58,"x":22,"y":2.21},{"g":58,"x":24,"y":2.05},{"g":58,"x":37,"y":2.05},{"g":58,"x":40,"y":1.93},{"g":58,"x":45,"y":1.92},{"g":58,"x":48,"y":1.9},{"g":58,"x":50,"y":1.88},{"g":58,"x":52.5,"y":1.87},{"g":58,"x":59,"y":1.86},{"g":58,"x":62.5,"y":1.72},{"g":58,"x":67,"y":1.72},{"g":58,"x":69.5,"y":1.4},{"g":58,"x":78,"y":1.4},
{"g":59,"x":5,"y":1.37},{"g":59,"x":8,"y":1.73},{"g":59,"x":12,"y":2.03},{"g":59,"x":17,"y":2.04},{"g":59,"x":20,"y":2.03},{"g":59,"x":22,"y":2.02},{"g":59,"x":24,"y":1.95},{"g":59,"x":37,"y":1.95},{"g":59,"x":40,"y":2.02},{"g":59,"x":45,"y":2.0},{"g":59,"x":48,"y":1.96},{"g":59,"x":50,"y":1.86},{"g":59,"x":52.5,"y":1.85},{"g":59,"x":59,"y":1.84},{"g":59,"x":62.5,"y":1.55},{"g":59,"x":67,"y":1.54},{"g":59,"x":69.5,"y":1.38},{"g":59,"x":78,"y":1.38},
{"g":60,"x":5,"y":1.37},{"g":60,"x":8,"y":1.6},{"g":60,"x":12,"y":1.78},{"g":60,"x":17,"y":1.8},{"g":60,"x":20,"y":1.95},{"g":60,"x":22,"y":2.1},{"g":60,"x":24,"y":2.14},{"g":60,"x":37,"y":2.14},{"g":60,"x":40,"y":2.2},{"g":60,"x":45,"y":2.19},{"g":60,"x":48,"y":2.15},{"g":60,"x":50,"y":2.22},{"g":60,"x":52.5,"y":2.22},{"g":60,"x":59,"y":2.23},{"g":60,"x":62.5,"y":2.43},{"g":60,"x":67,"y":2.43},{"g":60,"x":69.5,"y":2.4},{"g":60,"x":78,"y":2.4},
{"g":61,"x":5,"y":1.37},{"g":61,"x":8,"y":1.63},{"g":61,"x":12,"y":1.85},{"g":61,"x":17,"y":1.86},{"g":61,"x":20,"y":1.9},{"g":61,"x":22,"y":2.0},{"g":61,"x":24,"y":2.13},{"g":61,"x":37,"y":2.13},{"g":61,"x":40,"y":2.2},{"g":61,"x":45,"y":2.2},{"g":61,"x":48,"y":2.12},{"g":61,"x":50,"y":2.13},{"g":61,"x":52.5,"y":2.08},{"g":61,"x":59,"y":2.07},{"g":61,"x":62.5,"y":2.18},{"g":61,"x":67,"y":2.19},{"g":61,"x":69.5,"y":2.19},{"g":61,"x":78,"y":2.19},
{"g":62,"x":5,"y":1.37},{"g":62,"x":8,"y":1.58},{"g":62,"x":12,"y":1.75},{"g":62,"x":17,"y":1.76},{"g":62,"x":20,"y":1.8},{"g":62,"x":22,"y":1.85},{"g":62,"x":24,"y":1.88},{"g":62,"x":37,"y":1.88},{"g":62,"x":40,"y":1.95},{"g":62,"x":45,"y":1.94},{"g":62,"x":48,"y":1.9},{"g":62,"x":50,"y":1.88},{"g":62,"x":52.5,"y":1.95},{"g":62,"x":59,"y":2.0},{"g":62,"x":62.5,"y":2.22},{"g":62,"x":67,"y":2.21},{"g":62,"x":69.5,"y":2.11},{"g":62,"x":78,"y":2.11},
{"g":63,"x":5,"y":1.37},{"g":63,"x":8,"y":1.51},{"g":63,"x":12,"y":1.62},{"g":63,"x":17,"y":1.63},{"g":63,"x":20,"y":1.65},{"g":63,"x":22,"y":1.7},{"g":63,"x":24,"y":1.83},{"g":63,"x":37,"y":1.83},{"g":63,"x":40,"y":2.02},{"g":63,"x":45,"y":2.02},{"g":63,"x":48,"y":2.02},{"g":63,"x":50,"y":2.02},{"g":63,"x":52.5,"y":2.01},{"g":63,"x":59,"y":2.01},{"g":63,"x":62.5,"y":2.05},{"g":63,"x":67,"y":2.05},{"g":63,"x":69.5,"y":2.09},{"g":63,"x":78,"y":2.09},
{"g":64,"x":5,"y":1.37},{"g":64,"x":8,"y":1.47},{"g":64,"x":12,"y":1.55},{"g":64,"x":17,"y":1.56},{"g":64,"x":20,"y":1.6},{"g":64,"x":22,"y":1.62},{"g":64,"x":24,"y":1.6},{"g":64,"x":37,"y":1.6},{"g":64,"x":40,"y":1.7},{"g":64,"x":45,"y":1.72},{"g":64,"x":48,"y":1.8},{"g":64,"x":50,"y":1.82},{"g":64,"x":52.5,"y":1.83},{"g":64,"x":59,"y":1.83},{"g":64,"x":62.5,"y":1.9},{"g":64,"x":67,"y":1.92},{"g":64,"x":69.5,"y":2.01},{"g":64,"x":78,"y":2.01},
{"g":65,"x":5,"y":1.37},{"g":65,"x":8,"y":1.56},{"g":65,"x":12,"y":1.72},{"g":65,"x":17,"y":1.73},{"g":65,"x":20,"y":1.75},{"g":65,"x":22,"y":1.78},{"g":65,"x":24,"y":1.77},{"g":65,"x":37,"y":1.77},{"g":65,"x":40,"y":1.8},{"g":65,"x":45,"y":1.85},{"g":65,"x":48,"y":1.84},{"g":65,"x":50,"y":1.84},{"g":65,"x":52.5,"y":1.84},{"g":65,"x":59,"y":1.84},{"g":65,"x":62.5,"y":1.85},{"g":65,"x":67,"y":1.85},{"g":65,"x":69.5,"y":1.93},{"g":65,"x":78,"y":1.93},
{"g":66,"x":5,"y":1.37},{"g":66,"x":8,"y":1.49},{"g":66,"x":12,"y":1.58},{"g":66,"x":17,"y":1.58},{"g":66,"x":20,"y":1.62},{"g":66,"x":22,"y":1.75},{"g":66,"x":24,"y":1.82},{"g":66,"x":37,"y":1.82},{"g":66,"x":40,"y":1.9},{"g":66,"x":45,"y":1.9},{"g":66,"x":48,"y":1.89},{"g":66,"x":50,"y":1.89},{"g":66,"x":52.5,"y":1.88},{"g":66,"x":59,"y":1.88},{"g":66,"x":62.5,"y":1.85},{"g":66,"x":67,"y":1.85},{"g":66,"x":69.5,"y":1.85},{"g":66,"x":78,"y":1.85},
{"g":67,"x":5,"y":1.37},{"g":67,"x":8,"y":1.45},{"g":67,"x":12,"y":1.52},{"g":67,"x":17,"y":1.52},{"g":67,"x":20,"y":1.56},{"g":67,"x":22,"y":1.6},{"g":67,"x":24,"y":1.68},{"g":67,"x":37,"y":1.68},{"g":67,"x":40,"y":1.72},{"g":67,"x":45,"y":1.74},{"g":67,"x":48,"y":1.76},{"g":67,"x":50,"y":1.78},{"g":67,"x":52.5,"y":1.79},{"g":67,"x":59,"y":1.79},{"g":67,"x":62.5,"y":1.8},{"g":67,"x":67,"y":1.8},{"g":67,"x":69.5,"y":1.81},{"g":67,"x":78,"y":1.81},
{"g":68,"x":5,"y":1.37},{"g":68,"x":8,"y":1.62},{"g":68,"x":12,"y":1.82},{"g":68,"x":17,"y":1.83},{"g":68,"x":20,"y":1.86},{"g":68,"x":22,"y":1.9},{"g":68,"x":24,"y":1.93},{"g":68,"x":37,"y":1.93},{"g":68,"x":40,"y":1.78},{"g":68,"x":45,"y":1.76},{"g":68,"x":48,"y":1.73},{"g":68,"x":50,"y":1.7},{"g":68,"x":52.5,"y":1.68},{"g":68,"x":59,"y":1.68},{"g":68,"x":62.5,"y":1.72},{"g":68,"x":67,"y":1.73},{"g":68,"x":69.5,"y":1.74},{"g":68,"x":78,"y":1.74},
{"g":69,"x":5,"y":1.37},{"g":69,"x":8,"y":1.58},{"g":69,"x":12,"y":1.76},{"g":69,"x":17,"y":1.76},{"g":69,"x":20,"y":1.78},{"g":69,"x":22,"y":1.79},{"g":69,"x":24,"y":1.79},{"g":69,"x":37,"y":1.79},{"g":69,"x":40,"y":1.62},{"g":69,"x":45,"y":1.6},{"g":69,"x":48,"y":1.55},{"g":69,"x":50,"y":1.56},{"g":69,"x":52.5,"y":1.6},{"g":69,"x":59,"y":1.62},{"g":69,"x":62.5,"y":1.66},{"g":69,"x":67,"y":1.66},{"g":69,"x":69.5,"y":1.6},{"g":69,"x":78,"y":1.6},
{"g":70,"x":5,"y":1.37},{"g":70,"x":8,"y":1.43},{"g":70,"x":12,"y":1.48},{"g":70,"x":17,"y":1.48},{"g":70,"x":20,"y":1.5},{"g":70,"x":22,"y":1.55},{"g":70,"x":24,"y":1.62},{"g":70,"x":37,"y":1.62},{"g":70,"x":40,"y":1.65},{"g":70,"x":45,"y":1.66},{"g":70,"x":48,"y":1.7},{"g":70,"x":50,"y":1.72},{"g":70,"x":52.5,"y":1.73},{"g":70,"x":59,"y":1.73},{"g":70,"x":62.5,"y":1.74},{"g":70,"x":67,"y":1.74},{"g":70,"x":69.5,"y":1.75},{"g":70,"x":78,"y":1.75},
{"g":71,"x":5,"y":1.37},{"g":71,"x":8,"y":1.52},{"g":71,"x":12,"y":1.65},{"g":71,"x":17,"y":1.66},{"g":71,"x":20,"y":1.7},{"g":71,"x":22,"y":1.72},{"g":71,"x":24,"y":1.72},{"g":71,"x":37,"y":1.72},{"g":71,"x":40,"y":1.65},{"g":71,"x":45,"y":1.64},{"g":71,"x":48,"y":1.58},{"g":71,"x":50,"y":1.52},{"g":71,"x":52.5,"y":1.45},{"g":71,"x":59,"y":1.45},{"g":71,"x":62.5,"y":1.58},{"g":71,"x":67,"y":1.58},{"g":71,"x":69.5,"y":1.65},{"g":71,"x":78,"y":1.65},
{"g":72,"x":5,"y":1.37},{"g":72,"x":8,"y":1.41},{"g":72,"x":12,"y":1.45},{"g":72,"x":17,"y":1.45},{"g":72,"x":20,"y":1.46},{"g":72,"x":22,"y":1.48},{"g":72,"x":24,"y":1.55},{"g":72,"x":37,"y":1.55},{"g":72,"x":40,"y":1.58},{"g":72,"x":45,"y":1.6},{"g":72,"x":48,"y":1.63},{"g":72,"x":50,"y":1.65},{"g":72,"x":52.5,"y":1.66},{"g":72,"x":59,"y":1.66},{"g":72,"x":62.5,"y":1.68},{"g":72,"x":67,"y":1.68},{"g":72,"x":69.5,"y":1.7},{"g":72,"x":78,"y":1.7},
{"g":73,"x":5,"y":1.37},{"g":73,"x":8,"y":1.5},{"g":73,"x":12,"y":1.6},{"g":73,"x":17,"y":1.6},{"g":73,"x":20,"y":1.62},{"g":73,"x":22,"y":1.64},{"g":73,"x":24,"y":1.65},{"g":73,"x":37,"y":1.65},{"g":73,"x":40,"y":1.55},{"g":73,"x":45,"y":1.52},{"g":73,"x":48,"y":1.48},{"g":73,"x":50,"y":1.45},{"g":73,"x":52.5,"y":1.44},{"g":73,"x":59,"y":1.44},{"g":73,"x":62.5,"y":1.35},{"g":73,"x":67,"y":1.35},{"g":73,"x":69.5,"y":1.3},{"g":73,"x":78,"y":1.3},
{"g":74,"x":5,"y":1.37},{"g":74,"x":8,"y":1.4},{"g":74,"x":12,"y":1.42},{"g":74,"x":17,"y":1.42},{"g":74,"x":20,"y":1.42},{"g":74,"x":22,"y":1.44},{"g":74,"x":24,"y":1.5},{"g":74,"x":37,"y":1.5},{"g":74,"x":40,"y":1.53},{"g":74,"x":45,"y":1.55},{"g":74,"x":48,"y":1.52},{"g":74,"x":50,"y":1.5},{"g":74,"x":52.5,"y":1.49},{"g":74,"x":59,"y":1.49},{"g":74,"x":62.5,"y":1.5},{"g":74,"x":67,"y":1.5},{"g":74,"x":69.5,"y":1.62},{"g":74,"x":78,"y":1.62},
{"g":75,"x":5,"y":1.37},{"g":75,"x":8,"y":1.37},{"g":75,"x":12,"y":1.38},{"g":75,"x":17,"y":1.38},{"g":75,"x":20,"y":1.38},{"g":75,"x":22,"y":1.39},{"g":75,"x":24,"y":1.42},{"g":75,"x":37,"y":1.42},{"g":75,"x":40,"y":1.47},{"g":75,"x":45,"y":1.48},{"g":75,"x":48,"y":1.54},{"g":75,"x":50,"y":1.55},{"g":75,"x":52.5,"y":1.56},{"g":75,"x":59,"y":1.56},{"g":75,"x":62.5,"y":1.54},{"g":75,"x":67,"y":1.52},{"g":75,"x":69.5,"y":1.56},{"g":75,"x":78,"y":1.56},
{"g":76,"x":5,"y":1.37},{"g":76,"x":8,"y":1.37},{"g":76,"x":12,"y":1.36},{"g":76,"x":17,"y":1.36},{"g":76,"x":20,"y":1.38},{"g":76,"x":22,"y":1.4},{"g":76,"x":24,"y":1.44},{"g":76,"x":37,"y":1.44},{"g":76,"x":40,"y":1.42},{"g":76,"x":45,"y":1.42},{"g":76,"x":48,"y":1.42},{"g":76,"x":50,"y":1.41},{"g":76,"x":52.5,"y":1.41},{"g":76,"x":59,"y":1.4},{"g":76,"x":62.5,"y":1.4},{"g":76,"x":67,"y":1.4},{"g":76,"x":69.5,"y":1.47},{"g":76,"x":78,"y":1.47},
{"g":77,"x":5,"y":1.37},{"g":77,"x":8,"y":1.37},{"g":77,"x":12,"y":1.34},{"g":77,"x":17,"y":1.34},{"g":77,"x":20,"y":1.33},{"g":77,"x":22,"y":1.34},{"g":77,"x":24,"y":1.35},{"g":77,"x":37,"y":1.35},{"g":77,"x":40,"y":1.4},{"g":77,"x":45,"y":1.42},{"g":77,"x":48,"y":1.45},{"g":77,"x":50,"y":1.5},{"g":77,"x":52.5,"y":1.5},{"g":77,"x":59,"y":1.5},{"g":77,"x":62.5,"y":1.45},{"g":77,"x":67,"y":1.42},{"g":77,"x":69.5,"y":1.6},{"g":77,"x":78,"y":1.6},
{"g":78,"x":5,"y":1.37},{"g":78,"x":8,"y":1.36},{"g":78,"x":12,"y":1.3},{"g":78,"x":17,"y":1.29},{"g":78,"x":20,"y":1.28},{"g":78,"x":22,"y":1.28},{"g":78,"x":24,"y":1.3},{"g":78,"x":37,"y":1.3},{"g":78,"x":40,"y":1.34},{"g":78,"x":45,"y":1.35},{"g":78,"x":48,"y":1.37},{"g":78,"x":50,"y":1.38},{"g":78,"x":52.5,"y":1.38},{"g":78,"x":59,"y":1.38},{"g":78,"x":62.5,"y":1.37},{"g":78,"x":67,"y":1.37},{"g":78,"x":69.5,"y":1.42},{"g":78,"x":78,"y":1.42},
{"g":79,"x":5,"y":1.37},{"g":79,"x":8,"y":1.36},{"g":79,"x":12,"y":1.26},{"g":79,"x":17,"y":1.25},{"g":79,"x":20,"y":1.22},{"g":79,"x":22,"y":1.18},{"g":79,"x":24,"y":1.15},{"g":79,"x":37,"y":1.15},{"g":79,"x":40,"y":1.22},{"g":79,"x":45,"y":1.22},{"g":79,"x":48,"y":1.25},{"g":79,"x":50,"y":1.27},{"g":79,"x":52.5,"y":1.27},{"g":79,"x":59,"y":1.27},{"g":79,"x":62.5,"y":1.28},{"g":79,"x":67,"y":1.28},{"g":79,"x":69.5,"y":1.32},{"g":79,"x":78,"y":1.32},
{"g":80,"x":5,"y":1.37},{"g":80,"x":8,"y":1.36},{"g":80,"x":12,"y":1.24},{"g":80,"x":17,"y":1.23},{"g":80,"x":20,"y":1.18},{"g":80,"x":22,"y":1.12},{"g":80,"x":24,"y":1.1},{"g":80,"x":37,"y":1.1},{"g":80,"x":40,"y":1.1},{"g":80,"x":45,"y":1.1},{"g":80,"x":48,"y":1.08},{"g":80,"x":50,"y":1.1},{"g":80,"x":52.5,"y":1.12},{"g":80,"x":59,"y":1.12},{"g":80,"x":62.5,"y":1.14},{"g":80,"x":67,"y":1.15},{"g":80,"x":69.5,"y":1.25},{"g":80,"x":78,"y":1.25},
{"g":81,"x":5,"y":1.37},{"g":81,"x":8,"y":1.35},{"g":81,"x":12,"y":1.22},{"g":81,"x":17,"y":1.21},{"g":81,"x":20,"y":1.12},{"g":81,"x":22,"y":1.02},{"g":81,"x":24,"y":0.98},{"g":81,"x":37,"y":0.98},{"g":81,"x":40,"y":1.05},{"g":81,"x":45,"y":1.06},{"g":81,"x":48,"y":1.05},{"g":81,"x":50,"y":1.04},{"g":81,"x":52.5,"y":1.04},{"g":81,"x":59,"y":1.04},{"g":81,"x":62.5,"y":1.05},{"g":81,"x":67,"y":1.05},{"g":81,"x":69.5,"y":1.2},{"g":81,"x":78,"y":1.2},
{"g":82,"x":5,"y":1.37},{"g":82,"x":8,"y":1.35},{"g":82,"x":12,"y":1.2},{"g":82,"x":17,"y":1.19},{"g":82,"x":20,"y":1.08},{"g":82,"x":22,"y":0.96},{"g":82,"x":24,"y":0.92},{"g":82,"x":37,"y":0.92},{"g":82,"x":40,"y":0.96},{"g":82,"x":45,"y":0.97},{"g":82,"x":48,"y":0.96},{"g":82,"x":50,"y":0.95},{"g":82,"x":52.5,"y":0.95},{"g":82,"x":59,"y":0.95},{"g":82,"x":62.5,"y":0.98},{"g":82,"x":67,"y":0.99},{"g":82,"x":69.5,"y":1.15},{"g":82,"x":78,"y":1.15},
{"g":83,"x":5,"y":1.37},{"g":83,"x":8,"y":1.35},{"g":83,"x":12,"y":1.18},{"g":83,"x":17,"y":1.17},{"g":83,"x":20,"y":1.04},{"g":83,"x":22,"y":0.9},{"g":83,"x":24,"y":0.86},{"g":83,"x":37,"y":0.86},{"g":83,"x":40,"y":0.88},{"g":83,"x":45,"y":0.88},{"g":83,"x":48,"y":0.87},{"g":83,"x":50,"y":0.86},{"g":83,"x":52.5,"y":0.86},{"g":83,"x":59,"y":0.86},{"g":83,"x":62.5,"y":0.9},{"g":83,"x":67,"y":0.92},{"g":83,"x":69.5,"y":1.1},{"g":83,"x":78,"y":1.1},
{"g":84,"x":5,"y":1.37},{"g":84,"x":8,"y":1.34},{"g":84,"x":12,"y":1.16},{"g":84,"x":17,"y":1.15},{"g":84,"x":20,"y":1.0},{"g":84,"x":22,"y":0.84},{"g":84,"x":24,"y":0.8},{"g":84,"x":37,"y":0.8},{"g":84,"x":40,"y":0.75},{"g":84,"x":45,"y":0.74},{"g":84,"x":48,"y":0.72},{"g":84,"x":50,"y":0.7},{"g":84,"x":52.5,"y":0.68},{"g":84,"x":59,"y":0.67},{"g":84,"x":62.5,"y":0.4},{"g":84,"x":67,"y":0.48},{"g":84,"x":69.5,"y":0.95},{"g":84,"x":78,"y":0.95},
{"g":85,"x":5,"y":1.37},{"g":85,"x":8,"y":1.34},{"g":85,"x":12,"y":1.14},{"g":85,"x":17,"y":1.13},{"g":85,"x":20,"y":0.96},{"g":85,"x":22,"y":0.8},{"g":85,"x":24,"y":0.75},{"g":85,"x":37,"y":0.75},{"g":85,"x":40,"y":0.62},{"g":85,"x":45,"y":0.6},{"g":85,"x":48,"y":0.58},{"g":85,"x":50,"y":0.56},{"g":85,"x":52.5,"y":0.55},{"g":85,"x":59,"y":0.55},{"g":85,"x":62.5,"y":0.6},{"g":85,"x":67,"y":0.62},{"g":85,"x":69.5,"y":0.9},{"g":85,"x":78,"y":0.9},
{"g":86,"x":5,"y":1.37},{"g":86,"x":8,"y":1.34},{"g":86,"x":12,"y":1.13},{"g":86,"x":17,"y":1.12},{"g":86,"x":20,"y":0.94},{"g":86,"x":22,"y":0.76},{"g":86,"x":24,"y":0.71},{"g":86,"x":37,"y":0.71},{"g":86,"x":40,"y":0.5},{"g":86,"x":45,"y":0.48},{"g":86,"x":48,"y":0.46},{"g":86,"x":50,"y":0.45},{"g":86,"x":52.5,"y":0.45},{"g":86,"x":59,"y":0.45},{"g":86,"x":62.5,"y":0.5},{"g":86,"x":67,"y":0.52},{"g":86,"x":69.5,"y":0.85},{"g":86,"x":78,"y":0.85},
{"g":87,"x":5,"y":1.37},{"g":87,"x":8,"y":1.33},{"g":87,"x":12,"y":1.12},{"g":87,"x":17,"y":1.11},{"g":87,"x":20,"y":0.92},{"g":87,"x":22,"y":0.72},{"g":87,"x":24,"y":0.69},{"g":87,"x":37,"y":0.69},{"g":87,"x":40,"y":0.44},{"g":87,"x":45,"y":0.43},{"g":87,"x":48,"y":0.43},{"g":87,"x":50,"y":0.44},{"g":87,"x":52.5,"y":0.44},{"g":87,"x":59,"y":0.44},{"g":87,"x":62.5,"y":0.46},{"g":87,"x":67,"y":0.47},{"g":87,"x":69.5,"y":0.8},{"g":87,"x":78,"y":0.8},
{"g":88,"x":5,"y":1.37},{"g":88,"x":8,"y":1.36},{"g":88,"x":12,"y":1.21},{"g":88,"x":17,"y":1.2},{"g":88,"x":20,"y":1.06},{"g":88,"x":22,"y":0.92},{"g":88,"x":24,"y":0.88},{"g":88,"x":37,"y":0.88},{"g":88,"x":40,"y":0.55},{"g":88,"x":45,"y":0.52},{"g":88,"x":48,"y":0.48},{"g":88,"x":50,"y":0.46},{"g":88,"x":52.5,"y":0.47},{"g":88,"x":59,"y":0.47},{"g":88,"x":62.5,"y":0.48},{"g":88,"x":67,"y":0.48},{"g":88,"x":69.5,"y":0.95},{"g":88,"x":78,"y":0.95},
{"g":89,"x":5,"y":1.37},{"g":89,"x":8,"y":1.35},{"g":89,"x":12,"y":1.19},{"g":89,"x":17,"y":1.18},{"g":89,"x":20,"y":1.03},{"g":89,"x":22,"y":0.88},{"g":89,"x":24,"y":0.84},{"g":89,"x":37,"y":0.84},{"g":89,"x":40,"y":0.7},{"g":89,"x":45,"y":0.68},{"g":89,"x":48,"y":0.66},{"g":89,"x":50,"y":0.64},{"g":89,"x":52.5,"y":0.62},{"g":89,"x":59,"y":0.62},{"g":89,"x":62.5,"y":0.8},{"g":89,"x":67,"y":0.8},{"g":89,"x":69.5,"y":1.05},{"g":89,"x":78,"y":1.05},
{"g":90,"x":5,"y":1.37},{"g":90,"x":8,"y":1.36},{"g":90,"x":12,"y":1.24},{"g":90,"x":17,"y":1.23},{"g":90,"x":20,"y":1.14},{"g":90,"x":22,"y":1.05},{"g":90,"x":24,"y":1.02},{"g":90,"x":37,"y":1.02},{"g":90,"x":40,"y":0.8},{"g":90,"x":45,"y":0.78},{"g":90,"x":48,"y":0.6},{"g":90,"x":50,"y":0.58},{"g":90,"x":52.5,"y":0.56},{"g":90,"x":59,"y":0.56},{"g":90,"x":62.5,"y":0.65},{"g":90,"x":67,"y":0.66},{"g":90,"x":69.5,"y":1.0},{"g":90,"x":78,"y":1.0},
{"g":91,"x":5,"y":1.37},{"g":91,"x":8,"y":1.35},{"g":91,"x":12,"y":1.17},{"g":91,"x":17,"y":1.16},{"g":91,"x":20,"y":1.0},{"g":91,"x":22,"y":0.86},{"g":91,"x":24,"y":0.82},{"g":91,"x":37,"y":0.82},{"g":91,"x":40,"y":0.85},{"g":91,"x":45,"y":0.86},{"g":91,"x":48,"y":0.92},{"g":91,"x":50,"y":0.94},{"g":91,"x":52.5,"y":0.95},{"g":91,"x":59,"y":0.95},{"g":91,"x":62.5,"y":0.94},{"g":91,"x":67,"y":0.93},{"g":91,"x":69.5,"y":1.08},{"g":91,"x":78,"y":1.08},
{"g":92,"x":5,"y":1.37},{"g":92,"x":8,"y":1.36},{"g":92,"x":12,"y":1.2},{"g":92,"x":17,"y":1.19},{"g":92,"x":20,"y":1.05},{"g":92,"x":22,"y":0.94},{"g":92,"x":24,"y":0.9},{"g":92,"x":37,"y":0.9},{"g":92,"x":40,"y":0.98},{"g":92,"x":45,"y":1.0},{"g":92,"x":48,"y":1.02},{"g":92,"x":50,"y":1.04},{"g":92,"x":52.5,"y":1.05},{"g":92,"x":59,"y":1.05},{"g":92,"x":62.5,"y":1.08},{"g":92,"x":67,"y":1.08},{"g":92,"x":69.5,"y":1.13},{"g":92,"x":78,"y":1.13},
{"g":93,"x":5,"y":1.37},{"g":93,"x":8,"y":1.35},{"g":93,"x":12,"y":1.16},{"g":93,"x":17,"y":1.15},{"g":93,"x":20,"y":0.98},{"g":93,"x":22,"y":0.82},{"g":93,"x":24,"y":0.78},{"g":93,"x":37,"y":0.78},{"g":93,"x":40,"y":0.8},{"g":93,"x":45,"y":0.82},{"g":93,"x":48,"y":0.85},{"g":93,"x":50,"y":0.86},{"g":93,"x":52.5,"y":0.87},{"g":93,"x":59,"y":0.87},{"g":93,"x":62.5,"y":0.88},{"g":93,"x":67,"y":0.89},{"g":93,"x":69.5,"y":0.99},{"g":93,"x":78,"y":0.99},
{"g":94,"x":5,"y":1.37},{"g":94,"x":8,"y":1.36},{"g":94,"x":12,"y":1.25},{"g":94,"x":17,"y":1.24},{"g":94,"x":20,"y":1.16},{"g":94,"x":22,"y":1.08},{"g":94,"x":24,"y":1.05},{"g":94,"x":37,"y":1.05},{"g":94,"x":40,"y":1.12},{"g":94,"x":45,"y":1.14},{"g":94,"x":48,"y":1.16},{"g":94,"x":50,"y":1.18},{"g":94,"x":52.5,"y":1.18},{"g":94,"x":59,"y":1.18},{"g":94,"x":62.5,"y":1.2},{"g":94,"x":67,"y":1.2},{"g":94,"x":69.5,"y":0.88},{"g":94,"x":78,"y":0.88},
{"g":95,"x":5,"y":1.37},{"g":95,"x":8,"y":1.36},{"g":95,"x":12,"y":1.23},{"g":95,"x":17,"y":1.22},{"g":95,"x":20,"y":1.1},{"g":95,"x":22,"y":0.95},{"g":95,"x":24,"y":0.9},{"g":95,"x":37,"y":0.9},{"g":95,"x":40,"y":0.44},{"g":95,"x":45,"y":0.43},{"g":95,"x":48,"y":0.33},{"g":95,"x":50,"y":0.32},{"g":95,"x":52.5,"y":0.25},{"g":95,"x":59,"y":0.24},{"g":95,"x":61,"y":0.18},{"g":95,"x":62.5,"y":1.55},{"g":95,"x":67,"y":1.56},{"g":95,"x":69.5,"y":1.56},{"g":95,"x":78,"y":1.56},
{"g":96,"x":1,"y":0.3},{"g":96,"x":2,"y":1.37},{"g":96,"x":5,"y":1.37},
{"g":97,"x":5,"y":1.37},{"g":97,"x":8,"y":1.35},{"g":97,"x":12,"y":1.21},{"g":97,"x":17,"y":1.2},{"g":97,"x":20,"y":1.1},{"g":97,"x":22,"y":1.0},{"g":97,"x":24,"y":0.96},{"g":97,"x":37,"y":0.96},{"g":97,"x":40,"y":1.0},{"g":97,"x":45,"y":1.0},{"g":97,"x":48,"y":0.98},{"g":97,"x":50,"y":0.97},{"g":97,"x":52.5,"y":0.97},{"g":97,"x":59,"y":0.97},{"g":97,"x":62.5,"y":1.0},{"g":97,"x":67,"y":1.01},{"g":97,"x":69.5,"y":1.18},{"g":97,"x":78,"y":1.18},
{"g":98,"x":5,"y":1.37},{"g":98,"x":8,"y":1.36},{"g":98,"x":12,"y":1.23},{"g":98,"x":17,"y":1.22},{"g":98,"x":20,"y":1.15},{"g":98,"x":22,"y":1.1},{"g":98,"x":24,"y":1.08},{"g":98,"x":37,"y":1.08},{"g":98,"x":40,"y":1.16},{"g":98,"x":45,"y":1.17},{"g":98,"x":48,"y":1.2},{"g":98,"x":50,"y":1.21},{"g":98,"x":52.5,"y":1.21},{"g":98,"x":59,"y":1.21},{"g":98,"x":62.5,"y":1.22},{"g":98,"x":67,"y":1.22},{"g":98,"x":69.5,"y":1.28},{"g":98,"x":78,"y":1.28},
{"g":99,"x":5,"y":1.37},{"g":99,"x":8,"y":1.36},{"g":99,"x":12,"y":1.25},{"g":99,"x":17,"y":1.24},{"g":99,"x":20,"y":1.2},{"g":99,"x":22,"y":1.16},{"g":99,"x":24,"y":1.14},{"g":99,"x":37,"y":1.14},{"g":99,"x":40,"y":1.06},{"g":99,"x":45,"y":1.05},{"g":99,"x":48,"y":1.0},{"g":99,"x":50,"y":0.98},{"g":99,"x":52.5,"y":0.98},{"g":99,"x":59,"y":0.98},{"g":99,"x":62.5,"y":0.99},{"g":99,"x":67,"y":1.0},{"g":99,"x":69.5,"y":1.04},{"g":99,"x":78,"y":1.04},
{"g":100,"x":5,"y":1.37},{"g":100,"x":8,"y":1.38},{"g":100,"x":12,"y":1.4},{"g":100,"x":17,"y":1.4},{"g":100,"x":20,"y":1.38},{"g":100,"x":22,"y":1.36},{"g":100,"x":24,"y":1.32},{"g":100,"x":37,"y":1.32},{"g":100,"x":40,"y":1.25},{"g":100,"x":45,"y":1.24},{"g":100,"x":48,"y":1.22},{"g":100,"x":50,"y":1.2},{"g":100,"x":52.5,"y":1.2},{"g":100,"x":59,"y":1.2},{"g":100,"x":62.5,"y":1.24},{"g":100,"x":67,"y":1.25},{"g":100,"x":69.5,"y":1.45},{"g":100,"x":78,"y":1.45},
{"g":101,"x":5,"y":1.37},{"g":101,"x":8,"y":1.39},{"g":101,"x":12,"y":1.46},{"g":101,"x":17,"y":1.46},{"g":101,"x":20,"y":1.44},{"g":101,"x":22,"y":1.42},{"g":101,"x":24,"y":1.4},{"g":101,"x":37,"y":1.4},{"g":101,"x":40,"y":1.3},{"g":101,"x":45,"y":1.28},{"g":101,"x":48,"y":1.26},{"g":101,"x":50,"y":1.25},{"g":101,"x":52.5,"y":1.25},{"g":101,"x":59,"y":1.25},{"g":101,"x":62.5,"y":1.3},{"g":101,"x":67,"y":1.32},{"g":101,"x":69.5,"y":1.52},{"g":101,"x":78,"y":1.52},
{"g":102,"x":5,"y":1.37},{"g":102,"x":8,"y":1.35},{"g":102,"x":12,"y":1.18},{"g":102,"x":17,"y":1.17},{"g":102,"x":20,"y":1.02},{"g":102,"x":22,"y":0.88},{"g":102,"x":24,"y":0.84},{"g":102,"x":37,"y":0.84},{"g":102,"x":40,"y":0.9},{"g":102,"x":45,"y":0.92},{"g":102,"x":48,"y":0.9},{"g":102,"x":50,"y":0.89},{"g":102,"x":52.5,"y":0.89},{"g":102,"x":59,"y":0.89},{"g":102,"x":62.5,"y":0.86},{"g":102,"x":67,"y":0.85},{"g":102,"x":69.5,"y":0.97},{"g":102,"x":78,"y":0.97},
{"g":103,"x":5,"y":1.37},{"g":103,"x":8,"y":1.36},{"g":103,"x":12,"y":1.22},{"g":103,"x":17,"y":1.21},{"g":103,"x":20,"y":1.08},{"g":103,"x":22,"y":0.97},{"g":103,"x":24,"y":0.94},{"g":103,"x":37,"y":0.94},{"g":103,"x":40,"y":0.65},{"g":103,"x":45,"y":0.63},{"g":103,"x":48,"y":0.56},{"g":103,"x":50,"y":0.55},{"g":103,"x":52.5,"y":0.55},{"g":103,"x":59,"y":0.55},{"g":103,"x":62.5,"y":0.58},{"g":103,"x":67,"y":0.6},{"g":103,"x":69.5,"y":1.02},{"g":103,"x":78,"y":1.02},
{"g":104,"x":5,"y":1.37},{"g":104,"x":8,"y":1.34},{"g":104,"x":12,"y":1.15},{"g":104,"x":17,"y":1.14},{"g":104,"x":20,"y":0.97},{"g":104,"x":22,"y":0.79},{"g":104,"x":24,"y":0.74},{"g":104,"x":37,"y":0.74},{"g":104,"x":40,"y":0.66},{"g":104,"x":45,"y":0.65},{"g":104,"x":48,"y":0.62},{"g":104,"x":50,"y":0.6},{"g":104,"x":52.5,"y":0.6},{"g":104,"x":59,"y":0.6},{"g":104,"x":62.5,"y":0.7},{"g":104,"x":67,"y":0.72},{"g":104,"x":69.5,"y":0.92},{"g":104,"x":78,"y":0.92},
{"g":105,"x":5,"y":1.37},{"g":105,"x":8,"y":1.45},{"g":105,"x":12,"y":1.62},{"g":105,"x":17,"y":1.62},{"g":105,"x":20,"y":1.6},{"g":105,"x":22,"y":1.58},{"g":105,"x":24,"y":1.56},{"g":105,"x":37,"y":1.56},{"g":105,"x":40,"y":1.62},{"g":105,"x":45,"y":1.63},{"g":105,"x":48,"y":1.66},{"g":105,"x":50,"y":1.67},{"g":105,"x":52.5,"y":1.68},{"g":105,"x":59,"y":1.68},{"g":105,"x":62.5,"y":1.7},{"g":105,"x":67,"y":1.71},{"g":105,"x":69.5,"y":1.72},{"g":105,"x":78,"y":1.72},
{"g":106,"x":5,"y":1.37},{"g":106,"x":8,"y":1.4},{"g":106,"x":12,"y":1.5},{"g":106,"x":17,"y":1.5},{"g":106,"x":20,"y":1.52},{"g":106,"x":22,"y":1.54},{"g":106,"x":24,"y":1.58},{"g":106,"x":37,"y":1.58},{"g":106,"x":40,"y":1.48},{"g":106,"x":45,"y":1.46},{"g":106,"x":48,"y":1.4},{"g":106,"x":50,"y":1.36},{"g":106,"x":52.5,"y":1.35},{"g":106,"x":59,"y":1.35},{"g":106,"x":62.5,"y":1.4},{"g":106,"x":67,"y":1.42},{"g":106,"x":69.5,"y":1.58},{"g":106,"x":78,"y":1.58},
{"g":107,"x":5,"y":1.37},{"g":107,"x":8,"y":1.39},{"g":107,"x":12,"y":1.48},{"g":107,"x":16,"y":1.47},{"g":107,"x":19,"y":1.42},{"g":107,"x":22,"y":1.38},{"g":107,"x":24,"y":1.36},{"g":107,"x":36.5,"y":1.36},{"g":107,"x":39.5,"y":1.05},{"g":107,"x":45,"y":1.02},{"g":107,"x":48,"y":0.98},{"g":107,"x":50.5,"y":0.96},{"g":107,"x":52.5,"y":0.94},{"g":107,"x":59,"y":0.93},{"g":107,"x":62.5,"y":0.4},{"g":107,"x":67,"y":0.38},{"g":107,"x":69.5,"y":0.32},{"g":107,"x":78,"y":0.32},
{"g":108,"x":5,"y":1.37},{"g":108,"x":8,"y":1.37},{"g":108,"x":12,"y":1.36},{"g":108,"x":16,"y":1.35},{"g":108,"x":19,"y":1.3},{"g":108,"x":22,"y":1.22},{"g":108,"x":24,"y":1.12},{"g":108,"x":36.5,"y":1.12},{"g":108,"x":39.5,"y":0.92},{"g":108,"x":45,"y":0.9},{"g":108,"x":48,"y":0.85},{"g":108,"x":50.5,"y":0.82},{"g":108,"x":52.5,"y":0.78},{"g":108,"x":59,"y":0.77},{"g":108,"x":62.5,"y":0.33},{"g":108,"x":67,"y":0.32},{"g":108,"x":69.5,"y":0.28},{"g":108,"x":78,"y":0.28},
{"g":109,"x":5,"y":1.37},{"g":109,"x":8,"y":1.45},{"g":109,"x":12,"y":1.64},{"g":109,"x":16,"y":1.64},{"g":109,"x":19,"y":1.66},{"g":109,"x":22,"y":1.62},{"g":109,"x":24,"y":1.58},{"g":109,"x":36.5,"y":1.58},{"g":109,"x":39.5,"y":1.62},{"g":109,"x":45,"y":1.6},{"g":109,"x":48,"y":1.5},{"g":109,"x":50.5,"y":1.42},{"g":109,"x":52.5,"y":1.35},{"g":109,"x":59,"y":1.34},{"g":109,"x":62.5,"y":0.72},{"g":109,"x":67,"y":0.7},{"g":109,"x":69.5,"y":0.6},{"g":109,"x":78,"y":0.6},
{"g":110,"x":5,"y":1.37},{"g":110,"x":8,"y":1.41},{"g":110,"x":12,"y":1.52},{"g":110,"x":16,"y":1.52},{"g":110,"x":19,"y":1.48},{"g":110,"x":22,"y":1.44},{"g":110,"x":24,"y":1.38},{"g":110,"x":36.5,"y":1.38},{"g":110,"x":39.5,"y":1.32},{"g":110,"x":45,"y":1.3},{"g":110,"x":48,"y":1.22},{"g":110,"x":50.5,"y":1.15},{"g":110,"x":52.5,"y":1.08},{"g":110,"x":59,"y":1.06},{"g":110,"x":62.5,"y":0.55},{"g":110,"x":67,"y":0.53},{"g":110,"x":69.5,"y":0.44},{"g":110,"x":78,"y":0.44},
{"g":111,"x":5,"y":1.37},{"g":111,"x":8,"y":1.35},{"g":111,"x":12,"y":1.18},{"g":111,"x":16,"y":1.17},{"g":111,"x":19,"y":1.01},{"g":111,"x":22,"y":0.9},{"g":111,"x":24,"y":0.81},{"g":111,"x":36.5,"y":0.81},{"g":111,"x":39.5,"y":0.64},{"g":111,"x":45,"y":0.62},{"g":111,"x":48,"y":0.58},{"g":111,"x":50.5,"y":0.56},{"g":111,"x":52.5,"y":0.54},{"g":111,"x":59,"y":0.53},{"g":111,"x":62.5,"y":0.33},{"g":111,"x":67,"y":0.32},{"g":111,"x":69.5,"y":0.52},{"g":111,"x":78,"y":0.52},
{"g":112,"x":5,"y":1.37},{"g":112,"x":8,"y":1.35},{"g":112,"x":12,"y":1.17},{"g":112,"x":16,"y":1.16},{"g":112,"x":19,"y":1.0},{"g":112,"x":22,"y":0.88},{"g":112,"x":24,"y":0.78},{"g":112,"x":36.5,"y":0.78},{"g":112,"x":39.5,"y":0.57},{"g":112,"x":45,"y":0.55},{"g":112,"x":48,"y":0.48},{"g":112,"x":50.5,"y":0.46},{"g":112,"x":52.5,"y":0.4},{"g":112,"x":59,"y":0.39},{"g":112,"x":62.5,"y":0.2},{"g":112,"x":67,"y":0.19},{"g":112,"x":69.5,"y":0.35},{"g":112,"x":78,"y":0.35},
{"g":113,"x":5,"y":1.37},{"g":113,"x":8,"y":1.34},{"g":113,"x":12,"y":1.15},{"g":113,"x":16,"y":1.14},{"g":113,"x":19,"y":0.97},{"g":113,"x":22,"y":0.83},{"g":113,"x":24,"y":0.74},{"g":113,"x":36.5,"y":0.74},{"g":113,"x":39.5,"y":0.53},{"g":113,"x":45,"y":0.51},{"g":113,"x":48,"y":0.44},{"g":113,"x":50.5,"y":0.42},{"g":113,"x":52.5,"y":0.38},{"g":113,"x":59,"y":0.37},{"g":113,"x":62.5,"y":0.25},{"g":113,"x":67,"y":0.24},{"g":113,"x":69.5,"y":0.45},{"g":113,"x":78,"y":0.45},
{"g":114,"x":5,"y":1.37},{"g":114,"x":8,"y":1.36},{"g":114,"x":12,"y":1.22},{"g":114,"x":16,"y":1.21},{"g":114,"x":19,"y":1.07},{"g":114,"x":22,"y":0.97},{"g":114,"x":24,"y":0.92},{"g":114,"x":36.5,"y":0.92},{"g":114,"x":39.5,"y":0.8},{"g":114,"x":45,"y":0.78},{"g":114,"x":48,"y":0.75},{"g":114,"x":50.5,"y":0.72},{"g":114,"x":52.5,"y":0.68},{"g":114,"x":59,"y":0.66},{"g":114,"x":62.5,"y":0.38},{"g":114,"x":67,"y":0.36},{"g":114,"x":69.5,"y":0.68},{"g":114,"x":78,"y":0.68}
]
},
"data":{"name":"pts"},
"transform":[{"lookup":"g","from":{"data":{"name":"lines"},"key":"g","fields":["p","c"]}}],
"facet":{"column":{"field":"p","type":"nominal","sort":["below 33% Quantile","below 67% Quantile","below 100% Quantile"],
  "header":{"labels":false,"title":"iteration","titleOrient":"bottom","titleFont":"Liberation Sans","titleFontSize":27,"titleColor":"#000000","titleFontWeight":"normal","titlePadding":0}}},
"spacing":14.5,
"spec":{
  "width":369.5,"height":717.3,
  "layer":[
    {"mark":{"type":"line","interpolate":"monotone","strokeWidth":2.5},
     "encoding":{
       "x":{"field":"x","type":"quantitative","scale":{"domain":[-2.85,81.85],"nice":false,"zero":false},
         "axis":{"title":null,"values":[0,10,20,30,40,50,60,70,80],"format":"d","labelFont":"Liberation Sans","labelFontSize":23,"labelColor":"#4D4D4D","labelPadding":2,"labelFlush":false,"labelOverlap":false,"tickSize":7,"tickWidth":2,"tickColor":"#333333","domain":false,"gridColor":"#FFFFFF",
           "gridWidth":{"condition":{"test":"datum.value % 20 != 0","value":1.05},"value":2.1},
           "tickOpacity":{"condition":{"test":"datum.value % 20 != 0","value":0},"value":1},
           "labelOpacity":{"condition":{"test":"datum.value % 20 != 0","value":0},"value":1}}},
       "y":{"field":"y","type":"quantitative","scale":{"domain":[-0.0786,2.738],"nice":false,"zero":false},
         "axis":{"title":"log10(g+1)","titleFont":"Liberation Sans","titleFontSize":28,"titleFontWeight":"normal","titleColor":"#000000","titlePadding":12,"titleY":381.7,
           "values":[0,0.25,0.5,0.75,1,1.25,1.5,1.75,2,2.25,2.5],"format":".1f","labelFont":"Liberation Sans","labelFontSize":23,"labelColor":"#4D4D4D","labelPadding":5,"labelOverlap":false,"labelFlush":false,"tickSize":7,"tickWidth":2,"tickColor":"#333333","domain":false,"gridColor":"#FFFFFF",
           "gridWidth":{"condition":{"test":"datum.value * 2 % 1 != 0","value":1.05},"value":2.1},
           "tickOpacity":{"condition":{"test":"datum.value * 2 % 1 != 0","value":0},"value":1},
           "labelOpacity":{"condition":{"test":"datum.value * 2 % 1 != 0","value":0},"value":1}}},
       "color":{"field":"c","type":"nominal","scale":{"domain":[0,1,2,3,4,5,6,7,8,9,10,11,12,13,14],"range":["#F8766D","#E7851E","#D09400","#B79F00","#9DA700","#6FB000","#00BA38","#00BF7D","#00BFC4","#00B4F0","#619CFF","#B385FF","#E76BF3","#FF62BC","#FF6C91"]},"legend":null},
       "detail":{"field":"g","type":"nominal"}
     }},
    {"transform":[{"aggregate":[{"op":"count","as":"n"}],"groupby":["p"]}],
     "mark":{"type":"rect","color":"#D9D9D9"},
     "encoding":{"y":{"datum":2.558,"type":"quantitative"},"y2":{"datum":2.738}}},
    {"transform":[{"aggregate":[{"op":"count","as":"n"}],"groupby":["p"]}],
     "mark":{"type":"text","font":"Liberation Sans","fontSize":23.5,"color":"#1A1A1A","baseline":"middle","align":"center"},
     "encoding":{"y":{"datum":2.648,"type":"quantitative"},"text":{"field":"p","type":"nominal"}}}
  ]
},
"config":{"view":{"fill":"#EBEBEB","stroke":null},"font":"Liberation Sans"}
}
